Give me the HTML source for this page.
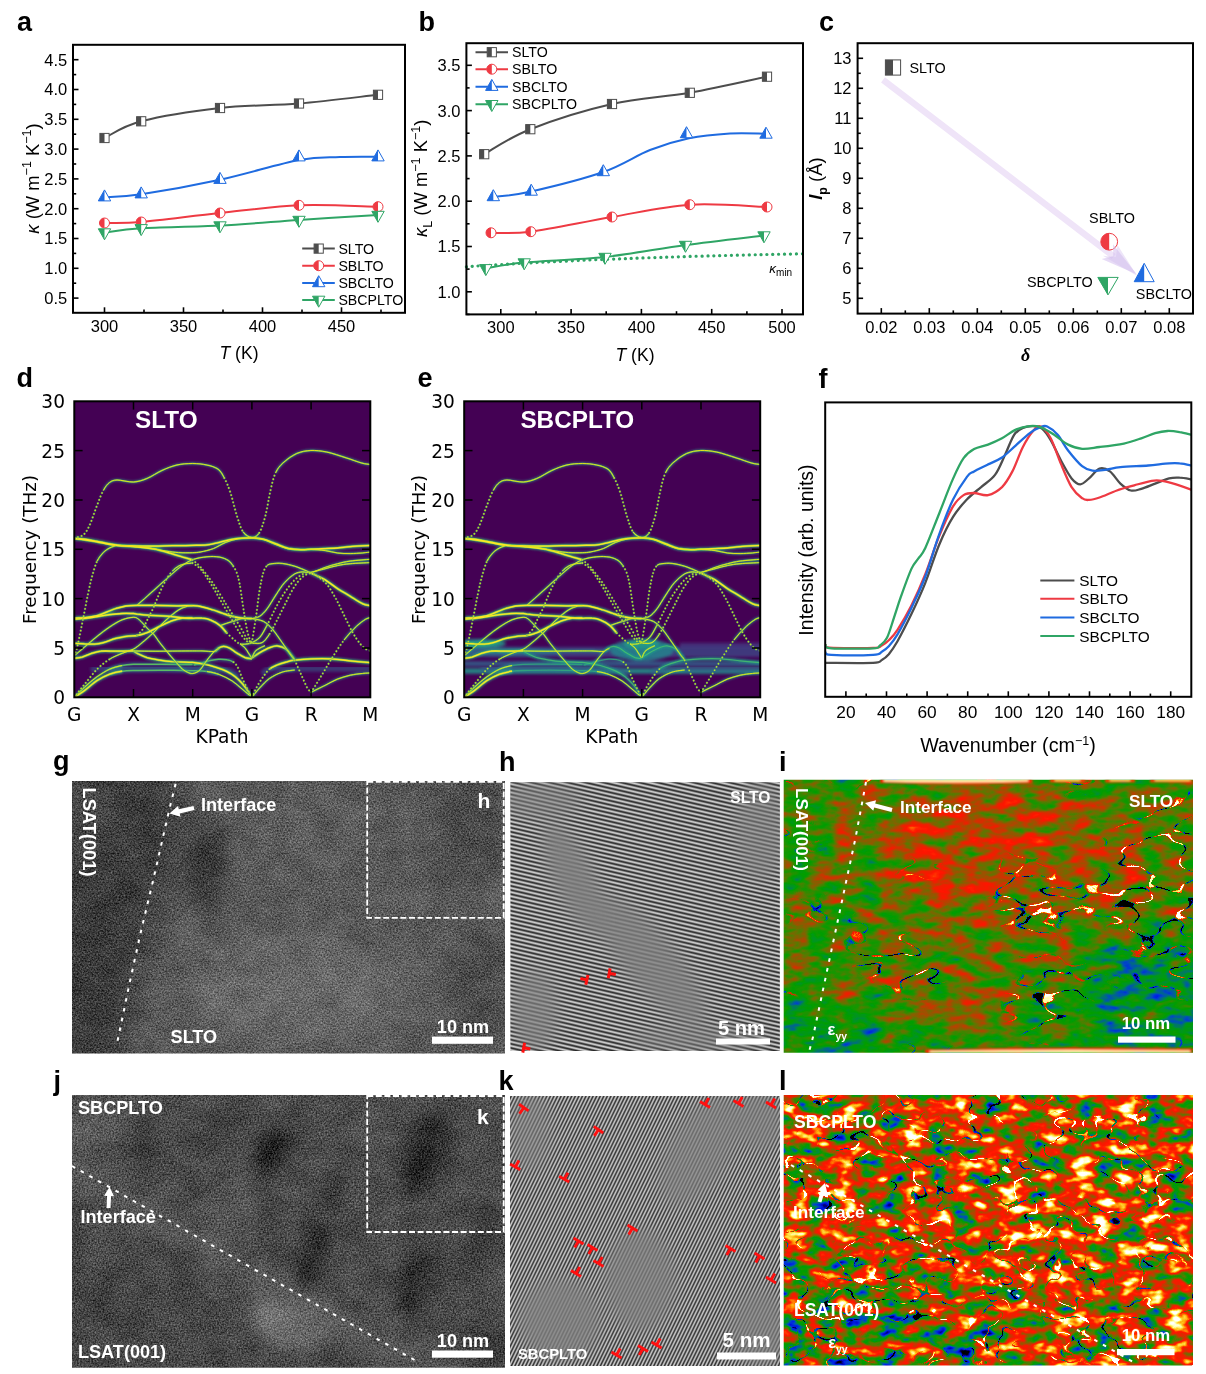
<!DOCTYPE html>
<html><head><meta charset="utf-8"><title>Figure</title>
<style>html,body{margin:0;padding:0;background:#fff}svg{display:block}</style></head>
<body>
<svg width="1206" height="1374" viewBox="0 0 1206 1374">
<g id="panel-a">
<text x="17" y="31.3" font-family='"Liberation Sans", sans-serif' font-size="27" text-anchor="start" font-weight="bold" font-style="normal" fill="#000">a</text>
<line x1="73" y1="298.1" x2="78.5" y2="298.1" stroke="#000" stroke-width="1.6"/><line x1="73" y1="268.3" x2="78.5" y2="268.3" stroke="#000" stroke-width="1.6"/><line x1="73" y1="238.5" x2="78.5" y2="238.5" stroke="#000" stroke-width="1.6"/><line x1="73" y1="208.7" x2="78.5" y2="208.7" stroke="#000" stroke-width="1.6"/><line x1="73" y1="178.9" x2="78.5" y2="178.9" stroke="#000" stroke-width="1.6"/><line x1="73" y1="149.1" x2="78.5" y2="149.1" stroke="#000" stroke-width="1.6"/><line x1="73" y1="119.3" x2="78.5" y2="119.3" stroke="#000" stroke-width="1.6"/><line x1="73" y1="89.5" x2="78.5" y2="89.5" stroke="#000" stroke-width="1.6"/><line x1="73" y1="59.7" x2="78.5" y2="59.7" stroke="#000" stroke-width="1.6"/>
<line x1="73" y1="283.2" x2="76.2" y2="283.2" stroke="#000" stroke-width="1.6"/><line x1="73" y1="253.4" x2="76.2" y2="253.4" stroke="#000" stroke-width="1.6"/><line x1="73" y1="223.6" x2="76.2" y2="223.6" stroke="#000" stroke-width="1.6"/><line x1="73" y1="193.8" x2="76.2" y2="193.8" stroke="#000" stroke-width="1.6"/><line x1="73" y1="164.0" x2="76.2" y2="164.0" stroke="#000" stroke-width="1.6"/><line x1="73" y1="134.2" x2="76.2" y2="134.2" stroke="#000" stroke-width="1.6"/><line x1="73" y1="104.4" x2="76.2" y2="104.4" stroke="#000" stroke-width="1.6"/><line x1="73" y1="74.6" x2="76.2" y2="74.6" stroke="#000" stroke-width="1.6"/>
<line x1="104.5" y1="312.8" x2="104.5" y2="307.3" stroke="#000" stroke-width="1.6"/><line x1="183.5" y1="312.8" x2="183.5" y2="307.3" stroke="#000" stroke-width="1.6"/><line x1="262.5" y1="312.8" x2="262.5" y2="307.3" stroke="#000" stroke-width="1.6"/><line x1="341.5" y1="312.8" x2="341.5" y2="307.3" stroke="#000" stroke-width="1.6"/>
<line x1="144.0" y1="312.8" x2="144.0" y2="309.6" stroke="#000" stroke-width="1.6"/><line x1="223.0" y1="312.8" x2="223.0" y2="309.6" stroke="#000" stroke-width="1.6"/><line x1="302.0" y1="312.8" x2="302.0" y2="309.6" stroke="#000" stroke-width="1.6"/><line x1="381.0" y1="312.8" x2="381.0" y2="309.6" stroke="#000" stroke-width="1.6"/>
<text x="67.3" y="304.0" font-family='"Liberation Sans", sans-serif' font-size="16.5" text-anchor="end" font-weight="normal" font-style="normal" fill="#000">0.5</text>
<text x="67.3" y="274.2" font-family='"Liberation Sans", sans-serif' font-size="16.5" text-anchor="end" font-weight="normal" font-style="normal" fill="#000">1.0</text>
<text x="67.3" y="244.4" font-family='"Liberation Sans", sans-serif' font-size="16.5" text-anchor="end" font-weight="normal" font-style="normal" fill="#000">1.5</text>
<text x="67.3" y="214.6" font-family='"Liberation Sans", sans-serif' font-size="16.5" text-anchor="end" font-weight="normal" font-style="normal" fill="#000">2.0</text>
<text x="67.3" y="184.8" font-family='"Liberation Sans", sans-serif' font-size="16.5" text-anchor="end" font-weight="normal" font-style="normal" fill="#000">2.5</text>
<text x="67.3" y="155.00000000000003" font-family='"Liberation Sans", sans-serif' font-size="16.5" text-anchor="end" font-weight="normal" font-style="normal" fill="#000">3.0</text>
<text x="67.3" y="125.20000000000002" font-family='"Liberation Sans", sans-serif' font-size="16.5" text-anchor="end" font-weight="normal" font-style="normal" fill="#000">3.5</text>
<text x="67.3" y="95.4" font-family='"Liberation Sans", sans-serif' font-size="16.5" text-anchor="end" font-weight="normal" font-style="normal" fill="#000">4.0</text>
<text x="67.3" y="65.60000000000001" font-family='"Liberation Sans", sans-serif' font-size="16.5" text-anchor="end" font-weight="normal" font-style="normal" fill="#000">4.5</text>
<text x="104.5" y="331.9" font-family='"Liberation Sans", sans-serif' font-size="16.5" text-anchor="middle" font-weight="normal" font-style="normal" fill="#000">300</text>
<text x="183.5" y="331.9" font-family='"Liberation Sans", sans-serif' font-size="16.5" text-anchor="middle" font-weight="normal" font-style="normal" fill="#000">350</text>
<text x="262.5" y="331.9" font-family='"Liberation Sans", sans-serif' font-size="16.5" text-anchor="middle" font-weight="normal" font-style="normal" fill="#000">400</text>
<text x="341.5" y="331.9" font-family='"Liberation Sans", sans-serif' font-size="16.5" text-anchor="middle" font-weight="normal" font-style="normal" fill="#000">450</text>
<text x="239" y="359.2" font-family='"Liberation Sans", sans-serif' font-size="17.6" text-anchor="middle" font-weight="normal" font-style="normal" fill="#000"><tspan font-style="italic">T</tspan> (K)</text>
<text x="38.6" y="178.5" font-family='"Liberation Sans", sans-serif' font-size="18.4" text-anchor="middle" transform="rotate(-90 38.6 178.5)"><tspan font-style="italic">κ</tspan> (W m<tspan dy="-7.5" font-size="12.5">−1</tspan><tspan dy="7.5"> K</tspan><tspan dy="-7.5" font-size="12.5">−1</tspan><tspan dy="7.5">)</tspan></text>
<path d="M104.5,138.0C110.6,135.2 121.9,126.3 141.2,121.3C160.4,116.3 193.7,111.0 220.0,108.0C246.3,105.0 272.7,105.7 299.0,103.5C325.3,101.3 364.8,96.2 378.0,94.8" fill="none" stroke="#4d4d4d" stroke-width="2" stroke-linecap="round"/>
<path d="M104.5,197.2C110.6,196.7 121.9,197.1 141.2,194.2C160.4,191.3 193.7,185.4 220.0,179.7C246.3,174.0 279.0,163.8 299.0,160.0C319.0,156.2 326.8,157.6 340.0,157.0C353.2,156.4 371.7,156.8 378.0,156.7" fill="none" stroke="#1f6be0" stroke-width="2" stroke-linecap="round"/>
<path d="M104.5,223.0C110.6,222.8 121.9,223.7 141.2,222.0C160.4,220.3 193.7,215.8 220.0,213.0C246.3,210.2 272.7,206.4 299.0,205.3C325.3,204.2 364.8,206.5 378.0,206.7" fill="none" stroke="#ee3a43" stroke-width="2" stroke-linecap="round"/>
<path d="M104.5,232.5C110.6,231.8 121.9,229.5 141.2,228.3C160.4,227.1 193.7,226.9 220.0,225.5C246.3,224.1 272.7,221.8 299.0,220.0C325.3,218.2 364.8,215.8 378.0,215.0" fill="none" stroke="#2fa565" stroke-width="2" stroke-linecap="round"/>
<rect x="99.9" y="133.4" width="9.2" height="9.2" fill="#fff" stroke="#4d4d4d" stroke-width="1"/><rect x="99.9" y="133.4" width="4.6" height="9.2" fill="#4d4d4d"/>
<rect x="136.6" y="116.7" width="9.2" height="9.2" fill="#fff" stroke="#4d4d4d" stroke-width="1"/><rect x="136.6" y="116.7" width="4.6" height="9.2" fill="#4d4d4d"/>
<rect x="215.4" y="103.4" width="9.2" height="9.2" fill="#fff" stroke="#4d4d4d" stroke-width="1"/><rect x="215.4" y="103.4" width="4.6" height="9.2" fill="#4d4d4d"/>
<rect x="294.4" y="98.9" width="9.2" height="9.2" fill="#fff" stroke="#4d4d4d" stroke-width="1"/><rect x="294.4" y="98.9" width="4.6" height="9.2" fill="#4d4d4d"/>
<rect x="373.4" y="90.2" width="9.2" height="9.2" fill="#fff" stroke="#4d4d4d" stroke-width="1"/><rect x="373.4" y="90.2" width="4.6" height="9.2" fill="#4d4d4d"/>
<path d="M104.5,189.9L110.7,200.9L98.3,200.9Z" fill="#fff" stroke="#1f6be0" stroke-width="1" stroke-linejoin="miter"/><path d="M104.5,189.9L104.5,200.9L98.3,200.9Z" fill="#1f6be0"/>
<path d="M141.2,186.9L147.4,197.9L135.0,197.9Z" fill="#fff" stroke="#1f6be0" stroke-width="1" stroke-linejoin="miter"/><path d="M141.2,186.9L141.2,197.9L135.0,197.9Z" fill="#1f6be0"/>
<path d="M220.0,172.4L226.2,183.4L213.8,183.4Z" fill="#fff" stroke="#1f6be0" stroke-width="1" stroke-linejoin="miter"/><path d="M220.0,172.4L220.0,183.4L213.8,183.4Z" fill="#1f6be0"/>
<path d="M299.0,149.9L305.2,160.9L292.8,160.9Z" fill="#fff" stroke="#1f6be0" stroke-width="1" stroke-linejoin="miter"/><path d="M299.0,149.9L299.0,160.9L292.8,160.9Z" fill="#1f6be0"/>
<path d="M378.0,149.9L384.2,160.9L371.8,160.9Z" fill="#fff" stroke="#1f6be0" stroke-width="1" stroke-linejoin="miter"/><path d="M378.0,149.9L378.0,160.9L371.8,160.9Z" fill="#1f6be0"/>
<circle cx="104.5" cy="223.0" r="5" fill="#fff" stroke="#ee3a43" stroke-width="1"/><path d="M104.5,218.0A5,5 0 0 0 104.5,228.0Z" fill="#ee3a43"/>
<circle cx="141.2" cy="222.0" r="5" fill="#fff" stroke="#ee3a43" stroke-width="1"/><path d="M141.2,217.0A5,5 0 0 0 141.2,227.0Z" fill="#ee3a43"/>
<circle cx="220.0" cy="213.0" r="5" fill="#fff" stroke="#ee3a43" stroke-width="1"/><path d="M220.0,208.0A5,5 0 0 0 220.0,218.0Z" fill="#ee3a43"/>
<circle cx="299.0" cy="205.3" r="5" fill="#fff" stroke="#ee3a43" stroke-width="1"/><path d="M299.0,200.3A5,5 0 0 0 299.0,210.3Z" fill="#ee3a43"/>
<circle cx="378.0" cy="206.7" r="5" fill="#fff" stroke="#ee3a43" stroke-width="1"/><path d="M378.0,201.7A5,5 0 0 0 378.0,211.7Z" fill="#ee3a43"/>
<path d="M98.3,228.8L110.7,228.8L104.5,239.8Z" fill="#fff" stroke="#2fa565" stroke-width="1" stroke-linejoin="miter"/><path d="M98.3,228.8L104.5,228.8L104.5,239.8Z" fill="#2fa565"/>
<path d="M135.0,224.6L147.4,224.6L141.2,235.6Z" fill="#fff" stroke="#2fa565" stroke-width="1" stroke-linejoin="miter"/><path d="M135.0,224.6L141.2,224.6L141.2,235.6Z" fill="#2fa565"/>
<path d="M213.8,221.8L226.2,221.8L220.0,232.8Z" fill="#fff" stroke="#2fa565" stroke-width="1" stroke-linejoin="miter"/><path d="M213.8,221.8L220.0,221.8L220.0,232.8Z" fill="#2fa565"/>
<path d="M292.8,216.3L305.2,216.3L299.0,227.3Z" fill="#fff" stroke="#2fa565" stroke-width="1" stroke-linejoin="miter"/><path d="M292.8,216.3L299.0,216.3L299.0,227.3Z" fill="#2fa565"/>
<path d="M371.8,211.3L384.2,211.3L378.0,222.3Z" fill="#fff" stroke="#2fa565" stroke-width="1" stroke-linejoin="miter"/><path d="M371.8,211.3L378.0,211.3L378.0,222.3Z" fill="#2fa565"/>
<line x1="302.2" y1="248.6" x2="334.8" y2="248.6" stroke="#4d4d4d" stroke-width="2"/><rect x="314.1" y="244.0" width="9.2" height="9.2" fill="#fff" stroke="#4d4d4d" stroke-width="1"/><rect x="314.1" y="244.0" width="4.6" height="9.2" fill="#4d4d4d"/><text x="338.4" y="253.5" font-family='"Liberation Sans", sans-serif' font-size="14.2" text-anchor="start" font-weight="normal" font-style="normal" fill="#000">SLTO</text><line x1="302.2" y1="265.7" x2="334.8" y2="265.7" stroke="#ee3a43" stroke-width="2"/><circle cx="318.7" cy="265.7" r="5" fill="#fff" stroke="#ee3a43" stroke-width="1"/><path d="M318.7,260.7A5,5 0 0 0 318.7,270.7Z" fill="#ee3a43"/><text x="338.4" y="270.59999999999997" font-family='"Liberation Sans", sans-serif' font-size="14.2" text-anchor="start" font-weight="normal" font-style="normal" fill="#000">SBLTO</text><line x1="302.2" y1="283" x2="334.8" y2="283" stroke="#1f6be0" stroke-width="2"/><path d="M318.7,275.7L324.9,286.7L312.5,286.7Z" fill="#fff" stroke="#1f6be0" stroke-width="1" stroke-linejoin="miter"/><path d="M318.7,275.7L318.7,286.7L312.5,286.7Z" fill="#1f6be0"/><text x="338.4" y="287.9" font-family='"Liberation Sans", sans-serif' font-size="14.2" text-anchor="start" font-weight="normal" font-style="normal" fill="#000">SBCLTO</text><line x1="302.2" y1="299.9" x2="334.8" y2="299.9" stroke="#2fa565" stroke-width="2"/><path d="M312.5,296.2L324.9,296.2L318.7,307.2Z" fill="#fff" stroke="#2fa565" stroke-width="1" stroke-linejoin="miter"/><path d="M312.5,296.2L318.7,296.2L318.7,307.2Z" fill="#2fa565"/><text x="338.4" y="304.79999999999995" font-family='"Liberation Sans", sans-serif' font-size="14.2" text-anchor="start" font-weight="normal" font-style="normal" fill="#000">SBCPLTO</text>
<rect x="73" y="44.8" width="332.0" height="268.0" fill="none" stroke="#000" stroke-width="2"/>
</g>
<g id="panel-b">
<text x="418.5" y="31.3" font-family='"Liberation Sans", sans-serif' font-size="27" text-anchor="start" font-weight="bold" font-style="normal" fill="#000">b</text>
<line x1="466.4" y1="291.8" x2="471.9" y2="291.8" stroke="#000" stroke-width="1.6"/><line x1="466.4" y1="246.5" x2="471.9" y2="246.5" stroke="#000" stroke-width="1.6"/><line x1="466.4" y1="201.2" x2="471.9" y2="201.2" stroke="#000" stroke-width="1.6"/><line x1="466.4" y1="155.9" x2="471.9" y2="155.9" stroke="#000" stroke-width="1.6"/><line x1="466.4" y1="110.6" x2="471.9" y2="110.6" stroke="#000" stroke-width="1.6"/><line x1="466.4" y1="65.3" x2="471.9" y2="65.3" stroke="#000" stroke-width="1.6"/>
<line x1="466.4" y1="314.4" x2="469.59999999999997" y2="314.4" stroke="#000" stroke-width="1.6"/><line x1="466.4" y1="269.1" x2="469.59999999999997" y2="269.1" stroke="#000" stroke-width="1.6"/><line x1="466.4" y1="223.8" x2="469.59999999999997" y2="223.8" stroke="#000" stroke-width="1.6"/><line x1="466.4" y1="178.6" x2="469.59999999999997" y2="178.6" stroke="#000" stroke-width="1.6"/><line x1="466.4" y1="133.2" x2="469.59999999999997" y2="133.2" stroke="#000" stroke-width="1.6"/><line x1="466.4" y1="87.9" x2="469.59999999999997" y2="87.9" stroke="#000" stroke-width="1.6"/>
<line x1="500.8" y1="314.4" x2="500.8" y2="308.9" stroke="#000" stroke-width="1.6"/><line x1="571.1" y1="314.4" x2="571.1" y2="308.9" stroke="#000" stroke-width="1.6"/><line x1="641.4" y1="314.4" x2="641.4" y2="308.9" stroke="#000" stroke-width="1.6"/><line x1="711.7" y1="314.4" x2="711.7" y2="308.9" stroke="#000" stroke-width="1.6"/><line x1="782.0" y1="314.4" x2="782.0" y2="308.9" stroke="#000" stroke-width="1.6"/>
<line x1="536.0" y1="314.4" x2="536.0" y2="311.2" stroke="#000" stroke-width="1.6"/><line x1="606.2" y1="314.4" x2="606.2" y2="311.2" stroke="#000" stroke-width="1.6"/><line x1="676.5" y1="314.4" x2="676.5" y2="311.2" stroke="#000" stroke-width="1.6"/><line x1="746.9" y1="314.4" x2="746.9" y2="311.2" stroke="#000" stroke-width="1.6"/>
<text x="460.5" y="297.7" font-family='"Liberation Sans", sans-serif' font-size="16.5" text-anchor="end" font-weight="normal" font-style="normal" fill="#000">1.0</text>
<text x="460.5" y="252.4" font-family='"Liberation Sans", sans-serif' font-size="16.5" text-anchor="end" font-weight="normal" font-style="normal" fill="#000">1.5</text>
<text x="460.5" y="207.1" font-family='"Liberation Sans", sans-serif' font-size="16.5" text-anchor="end" font-weight="normal" font-style="normal" fill="#000">2.0</text>
<text x="460.5" y="161.79999999999998" font-family='"Liberation Sans", sans-serif' font-size="16.5" text-anchor="end" font-weight="normal" font-style="normal" fill="#000">2.5</text>
<text x="460.5" y="116.5" font-family='"Liberation Sans", sans-serif' font-size="16.5" text-anchor="end" font-weight="normal" font-style="normal" fill="#000">3.0</text>
<text x="460.5" y="71.2" font-family='"Liberation Sans", sans-serif' font-size="16.5" text-anchor="end" font-weight="normal" font-style="normal" fill="#000">3.5</text>
<text x="500.8" y="332.8" font-family='"Liberation Sans", sans-serif' font-size="16.5" text-anchor="middle" font-weight="normal" font-style="normal" fill="#000">300</text>
<text x="571.1" y="332.8" font-family='"Liberation Sans", sans-serif' font-size="16.5" text-anchor="middle" font-weight="normal" font-style="normal" fill="#000">350</text>
<text x="641.4" y="332.8" font-family='"Liberation Sans", sans-serif' font-size="16.5" text-anchor="middle" font-weight="normal" font-style="normal" fill="#000">400</text>
<text x="711.7" y="332.8" font-family='"Liberation Sans", sans-serif' font-size="16.5" text-anchor="middle" font-weight="normal" font-style="normal" fill="#000">450</text>
<text x="782.0" y="332.8" font-family='"Liberation Sans", sans-serif' font-size="16.5" text-anchor="middle" font-weight="normal" font-style="normal" fill="#000">500</text>
<text x="635" y="361.2" font-family='"Liberation Sans", sans-serif' font-size="17.6" text-anchor="middle" font-weight="normal" font-style="normal" fill="#000"><tspan font-style="italic">T</tspan> (K)</text>
<text x="427.4" y="178.3" font-family='"Liberation Sans", sans-serif' font-size="18.4" text-anchor="middle" transform="rotate(-90 427.4 178.3)"><tspan font-style="italic">κ</tspan><tspan dy="4.5" font-size="12.5">L</tspan><tspan dy="-4.5"> (W m</tspan><tspan dy="-7.5" font-size="12.5">−1</tspan><tspan dy="7.5"> K</tspan><tspan dy="-7.5" font-size="12.5">−1</tspan><tspan dy="7.5">)</tspan></text>
<path d="M466.4,266.8Q600,257.5 803,253.8" fill="none" stroke="#2fa565" stroke-width="3.2" stroke-dasharray="0.1 5.8" stroke-linecap="round"/>
<text x="769.3" y="272.8" font-family='"Liberation Sans", sans-serif' font-size="13.5"><tspan font-style="italic">κ</tspan><tspan dy="3" font-size="10">min</tspan></text>
<path d="M484.2,154.2C491.9,150.0 509.0,137.6 530.3,129.2C551.6,120.8 585.4,110.1 612.0,104.0C638.6,97.9 664.0,97.3 689.8,92.8C715.6,88.2 754.1,79.4 767.0,76.7" fill="none" stroke="#4d4d4d" stroke-width="2" stroke-linecap="round"/>
<path d="M493.3,197.0C499.6,196.1 512.9,195.7 531.2,191.5C549.5,187.3 583.5,178.9 603.3,172.0C623.1,165.1 635.7,155.6 650.0,150.0C664.3,144.4 675.7,141.1 689.0,138.3C702.3,135.6 717.2,134.3 730.0,133.5C742.8,132.7 760.0,133.7 766.0,133.7" fill="none" stroke="#1f6be0" stroke-width="2" stroke-linecap="round"/>
<path d="M491.0,232.8C497.6,232.6 510.6,234.3 530.8,231.7C551.0,229.1 585.5,221.5 612.0,217.0C638.5,212.5 664.0,206.4 689.8,204.7C715.6,203.0 754.1,206.6 767.0,207.0" fill="none" stroke="#ee3a43" stroke-width="2" stroke-linecap="round"/>
<path d="M485.8,268.3C492.2,267.3 504.3,264.4 524.2,262.5C544.1,260.6 578.1,259.9 605.0,257.0C631.9,254.1 659.0,248.6 685.5,245.0C712.0,241.4 750.9,237.1 764.0,235.5" fill="none" stroke="#2fa565" stroke-width="2" stroke-linecap="round"/>
<rect x="479.6" y="149.6" width="9.2" height="9.2" fill="#fff" stroke="#4d4d4d" stroke-width="1"/><rect x="479.6" y="149.6" width="4.6" height="9.2" fill="#4d4d4d"/>
<rect x="525.7" y="124.6" width="9.2" height="9.2" fill="#fff" stroke="#4d4d4d" stroke-width="1"/><rect x="525.7" y="124.6" width="4.6" height="9.2" fill="#4d4d4d"/>
<rect x="607.4" y="99.4" width="9.2" height="9.2" fill="#fff" stroke="#4d4d4d" stroke-width="1"/><rect x="607.4" y="99.4" width="4.6" height="9.2" fill="#4d4d4d"/>
<rect x="685.2" y="88.2" width="9.2" height="9.2" fill="#fff" stroke="#4d4d4d" stroke-width="1"/><rect x="685.2" y="88.2" width="4.6" height="9.2" fill="#4d4d4d"/>
<rect x="762.4" y="72.1" width="9.2" height="9.2" fill="#fff" stroke="#4d4d4d" stroke-width="1"/><rect x="762.4" y="72.1" width="4.6" height="9.2" fill="#4d4d4d"/>
<path d="M493.3,189.7L499.5,200.7L487.1,200.7Z" fill="#fff" stroke="#1f6be0" stroke-width="1" stroke-linejoin="miter"/><path d="M493.3,189.7L493.3,200.7L487.1,200.7Z" fill="#1f6be0"/>
<path d="M531.2,184.2L537.4,195.2L525.0,195.2Z" fill="#fff" stroke="#1f6be0" stroke-width="1" stroke-linejoin="miter"/><path d="M531.2,184.2L531.2,195.2L525.0,195.2Z" fill="#1f6be0"/>
<path d="M603.3,164.7L609.5,175.7L597.1,175.7Z" fill="#fff" stroke="#1f6be0" stroke-width="1" stroke-linejoin="miter"/><path d="M603.3,164.7L603.3,175.7L597.1,175.7Z" fill="#1f6be0"/>
<path d="M686.5,126.7L692.7,137.7L680.3,137.7Z" fill="#fff" stroke="#1f6be0" stroke-width="1" stroke-linejoin="miter"/><path d="M686.5,126.7L686.5,137.7L680.3,137.7Z" fill="#1f6be0"/>
<path d="M766.0,127.2L772.2,138.2L759.8,138.2Z" fill="#fff" stroke="#1f6be0" stroke-width="1" stroke-linejoin="miter"/><path d="M766.0,127.2L766.0,138.2L759.8,138.2Z" fill="#1f6be0"/>
<circle cx="491.0" cy="232.8" r="5" fill="#fff" stroke="#ee3a43" stroke-width="1"/><path d="M491.0,227.8A5,5 0 0 0 491.0,237.8Z" fill="#ee3a43"/>
<circle cx="530.8" cy="231.7" r="5" fill="#fff" stroke="#ee3a43" stroke-width="1"/><path d="M530.8,226.7A5,5 0 0 0 530.8,236.7Z" fill="#ee3a43"/>
<circle cx="612.0" cy="217.0" r="5" fill="#fff" stroke="#ee3a43" stroke-width="1"/><path d="M612.0,212.0A5,5 0 0 0 612.0,222.0Z" fill="#ee3a43"/>
<circle cx="689.8" cy="204.7" r="5" fill="#fff" stroke="#ee3a43" stroke-width="1"/><path d="M689.8,199.7A5,5 0 0 0 689.8,209.7Z" fill="#ee3a43"/>
<circle cx="767.0" cy="207.0" r="5" fill="#fff" stroke="#ee3a43" stroke-width="1"/><path d="M767.0,202.0A5,5 0 0 0 767.0,212.0Z" fill="#ee3a43"/>
<path d="M479.6,264.6L492.0,264.6L485.8,275.6Z" fill="#fff" stroke="#2fa565" stroke-width="1" stroke-linejoin="miter"/><path d="M479.6,264.6L485.8,264.6L485.8,275.6Z" fill="#2fa565"/>
<path d="M518.0,258.8L530.4,258.8L524.2,269.8Z" fill="#fff" stroke="#2fa565" stroke-width="1" stroke-linejoin="miter"/><path d="M518.0,258.8L524.2,258.8L524.2,269.8Z" fill="#2fa565"/>
<path d="M598.8,253.3L611.2,253.3L605.0,264.3Z" fill="#fff" stroke="#2fa565" stroke-width="1" stroke-linejoin="miter"/><path d="M598.8,253.3L605.0,253.3L605.0,264.3Z" fill="#2fa565"/>
<path d="M679.3,241.3L691.7,241.3L685.5,252.3Z" fill="#fff" stroke="#2fa565" stroke-width="1" stroke-linejoin="miter"/><path d="M679.3,241.3L685.5,241.3L685.5,252.3Z" fill="#2fa565"/>
<path d="M757.8,231.8L770.2,231.8L764.0,242.8Z" fill="#fff" stroke="#2fa565" stroke-width="1" stroke-linejoin="miter"/><path d="M757.8,231.8L764.0,231.8L764.0,242.8Z" fill="#2fa565"/>
<line x1="475.5" y1="52.2" x2="508" y2="52.2" stroke="#4d4d4d" stroke-width="2"/><rect x="487.2" y="47.6" width="9.2" height="9.2" fill="#fff" stroke="#4d4d4d" stroke-width="1"/><rect x="487.2" y="47.6" width="4.6" height="9.2" fill="#4d4d4d"/><text x="512" y="57.1" font-family='"Liberation Sans", sans-serif' font-size="14.2" text-anchor="start" font-weight="normal" font-style="normal" fill="#000">SLTO</text><line x1="475.5" y1="69.2" x2="508" y2="69.2" stroke="#ee3a43" stroke-width="2"/><circle cx="491.8" cy="69.2" r="5" fill="#fff" stroke="#ee3a43" stroke-width="1"/><path d="M491.8,64.2A5,5 0 0 0 491.8,74.2Z" fill="#ee3a43"/><text x="512" y="74.10000000000001" font-family='"Liberation Sans", sans-serif' font-size="14.2" text-anchor="start" font-weight="normal" font-style="normal" fill="#000">SBLTO</text><line x1="475.5" y1="86.7" x2="508" y2="86.7" stroke="#1f6be0" stroke-width="2"/><path d="M491.8,79.4L498.0,90.4L485.6,90.4Z" fill="#fff" stroke="#1f6be0" stroke-width="1" stroke-linejoin="miter"/><path d="M491.8,79.4L491.8,90.4L485.6,90.4Z" fill="#1f6be0"/><text x="512" y="91.60000000000001" font-family='"Liberation Sans", sans-serif' font-size="14.2" text-anchor="start" font-weight="normal" font-style="normal" fill="#000">SBCLTO</text><line x1="475.5" y1="104.2" x2="508" y2="104.2" stroke="#2fa565" stroke-width="2"/><path d="M485.6,100.5L498.0,100.5L491.8,111.5Z" fill="#fff" stroke="#2fa565" stroke-width="1" stroke-linejoin="miter"/><path d="M485.6,100.5L491.8,100.5L491.8,111.5Z" fill="#2fa565"/><text x="512" y="109.10000000000001" font-family='"Liberation Sans", sans-serif' font-size="14.2" text-anchor="start" font-weight="normal" font-style="normal" fill="#000">SBCPLTO</text>
<rect x="466.4" y="43.2" width="336.6" height="271.2" fill="none" stroke="#000" stroke-width="2"/>
</g>
<g id="panel-c">
<text x="819" y="31.3" font-family='"Liberation Sans", sans-serif' font-size="27" text-anchor="start" font-weight="bold" font-style="normal" fill="#000">c</text>
<line x1="857.6" y1="298.3" x2="863.1" y2="298.3" stroke="#000" stroke-width="1.6"/><line x1="857.6" y1="268.3" x2="863.1" y2="268.3" stroke="#000" stroke-width="1.6"/><line x1="857.6" y1="238.3" x2="863.1" y2="238.3" stroke="#000" stroke-width="1.6"/><line x1="857.6" y1="208.3" x2="863.1" y2="208.3" stroke="#000" stroke-width="1.6"/><line x1="857.6" y1="178.3" x2="863.1" y2="178.3" stroke="#000" stroke-width="1.6"/><line x1="857.6" y1="148.3" x2="863.1" y2="148.3" stroke="#000" stroke-width="1.6"/><line x1="857.6" y1="118.3" x2="863.1" y2="118.3" stroke="#000" stroke-width="1.6"/><line x1="857.6" y1="88.3" x2="863.1" y2="88.3" stroke="#000" stroke-width="1.6"/><line x1="857.6" y1="58.3" x2="863.1" y2="58.3" stroke="#000" stroke-width="1.6"/>
<line x1="857.6" y1="283.3" x2="860.8000000000001" y2="283.3" stroke="#000" stroke-width="1.6"/><line x1="857.6" y1="253.3" x2="860.8000000000001" y2="253.3" stroke="#000" stroke-width="1.6"/><line x1="857.6" y1="223.3" x2="860.8000000000001" y2="223.3" stroke="#000" stroke-width="1.6"/><line x1="857.6" y1="193.3" x2="860.8000000000001" y2="193.3" stroke="#000" stroke-width="1.6"/><line x1="857.6" y1="163.3" x2="860.8000000000001" y2="163.3" stroke="#000" stroke-width="1.6"/><line x1="857.6" y1="133.3" x2="860.8000000000001" y2="133.3" stroke="#000" stroke-width="1.6"/><line x1="857.6" y1="103.3" x2="860.8000000000001" y2="103.3" stroke="#000" stroke-width="1.6"/><line x1="857.6" y1="73.3" x2="860.8000000000001" y2="73.3" stroke="#000" stroke-width="1.6"/>
<line x1="881.3" y1="313.6" x2="881.3" y2="308.1" stroke="#000" stroke-width="1.6"/><line x1="929.3" y1="313.6" x2="929.3" y2="308.1" stroke="#000" stroke-width="1.6"/><line x1="977.3" y1="313.6" x2="977.3" y2="308.1" stroke="#000" stroke-width="1.6"/><line x1="1025.3" y1="313.6" x2="1025.3" y2="308.1" stroke="#000" stroke-width="1.6"/><line x1="1073.3" y1="313.6" x2="1073.3" y2="308.1" stroke="#000" stroke-width="1.6"/><line x1="1121.3" y1="313.6" x2="1121.3" y2="308.1" stroke="#000" stroke-width="1.6"/><line x1="1169.3" y1="313.6" x2="1169.3" y2="308.1" stroke="#000" stroke-width="1.6"/>
<line x1="905.3" y1="313.6" x2="905.3" y2="310.40000000000003" stroke="#000" stroke-width="1.6"/><line x1="953.3" y1="313.6" x2="953.3" y2="310.40000000000003" stroke="#000" stroke-width="1.6"/><line x1="1001.3" y1="313.6" x2="1001.3" y2="310.40000000000003" stroke="#000" stroke-width="1.6"/><line x1="1049.3" y1="313.6" x2="1049.3" y2="310.40000000000003" stroke="#000" stroke-width="1.6"/><line x1="1097.3" y1="313.6" x2="1097.3" y2="310.40000000000003" stroke="#000" stroke-width="1.6"/><line x1="1145.3" y1="313.6" x2="1145.3" y2="310.40000000000003" stroke="#000" stroke-width="1.6"/>
<text x="851.5" y="304.2" font-family='"Liberation Sans", sans-serif' font-size="16.5" text-anchor="end" font-weight="normal" font-style="normal" fill="#000">5</text>
<text x="851.5" y="274.2" font-family='"Liberation Sans", sans-serif' font-size="16.5" text-anchor="end" font-weight="normal" font-style="normal" fill="#000">6</text>
<text x="851.5" y="244.20000000000002" font-family='"Liberation Sans", sans-serif' font-size="16.5" text-anchor="end" font-weight="normal" font-style="normal" fill="#000">7</text>
<text x="851.5" y="214.20000000000002" font-family='"Liberation Sans", sans-serif' font-size="16.5" text-anchor="end" font-weight="normal" font-style="normal" fill="#000">8</text>
<text x="851.5" y="184.20000000000002" font-family='"Liberation Sans", sans-serif' font-size="16.5" text-anchor="end" font-weight="normal" font-style="normal" fill="#000">9</text>
<text x="851.5" y="154.20000000000002" font-family='"Liberation Sans", sans-serif' font-size="16.5" text-anchor="end" font-weight="normal" font-style="normal" fill="#000">10</text>
<text x="851.5" y="124.2" font-family='"Liberation Sans", sans-serif' font-size="16.5" text-anchor="end" font-weight="normal" font-style="normal" fill="#000">11</text>
<text x="851.5" y="94.2" font-family='"Liberation Sans", sans-serif' font-size="16.5" text-anchor="end" font-weight="normal" font-style="normal" fill="#000">12</text>
<text x="851.5" y="64.2" font-family='"Liberation Sans", sans-serif' font-size="16.5" text-anchor="end" font-weight="normal" font-style="normal" fill="#000">13</text>
<text x="881.3" y="332.6" font-family='"Liberation Sans", sans-serif' font-size="16.5" text-anchor="middle" font-weight="normal" font-style="normal" fill="#000">0.02</text>
<text x="929.3" y="332.6" font-family='"Liberation Sans", sans-serif' font-size="16.5" text-anchor="middle" font-weight="normal" font-style="normal" fill="#000">0.03</text>
<text x="977.3" y="332.6" font-family='"Liberation Sans", sans-serif' font-size="16.5" text-anchor="middle" font-weight="normal" font-style="normal" fill="#000">0.04</text>
<text x="1025.3" y="332.6" font-family='"Liberation Sans", sans-serif' font-size="16.5" text-anchor="middle" font-weight="normal" font-style="normal" fill="#000">0.05</text>
<text x="1073.3" y="332.6" font-family='"Liberation Sans", sans-serif' font-size="16.5" text-anchor="middle" font-weight="normal" font-style="normal" fill="#000">0.06</text>
<text x="1121.3" y="332.6" font-family='"Liberation Sans", sans-serif' font-size="16.5" text-anchor="middle" font-weight="normal" font-style="normal" fill="#000">0.07</text>
<text x="1169.3" y="332.6" font-family='"Liberation Sans", sans-serif' font-size="16.5" text-anchor="middle" font-weight="normal" font-style="normal" fill="#000">0.08</text>
<text x="1025.5" y="360.5" font-family='"Liberation Serif", serif' font-size="18" text-anchor="middle" font-weight="bold" font-style="italic" fill="#000">δ</text>
<text x="822.1" y="178.6" font-family='"Liberation Sans", sans-serif' font-size="18.4" text-anchor="middle" transform="rotate(-90 822.1 178.6)"><tspan font-style="italic" font-weight="bold">l</tspan><tspan dy="4.5" font-size="12.5" font-weight="bold">p</tspan><tspan dy="-4.5"> (Å)</tspan></text>
<path d="M881.1,82.4L884.9,77.3L1115.7,254.0L1111.8,259.1Z" fill="#efe4f8"/>
<rect x="885.4" y="59.9" width="15.2" height="15.2" fill="#fff" stroke="#4d4d4d" stroke-width="1"/><rect x="885.4" y="59.9" width="7.6" height="15.2" fill="#4d4d4d"/>
<text x="909.5" y="72.8" font-family='"Liberation Sans", sans-serif' font-size="14.4" text-anchor="start" font-weight="normal" font-style="normal" fill="#000">SLTO</text>
<circle cx="1109.2" cy="241.7" r="8.4" fill="#fff" stroke="#ee3a43" stroke-width="1"/><path d="M1109.2,233.3A8.4,8.4 0 0 0 1109.2,250.1Z" fill="#ee3a43"/>
<text x="1112" y="222.8" font-family='"Liberation Sans", sans-serif' font-size="14.4" text-anchor="middle" font-weight="normal" font-style="normal" fill="#000">SBLTO</text>
<path d="M1144.2,263.3L1154.2,281.7L1134.2,281.7Z" fill="#fff" stroke="#1f6be0" stroke-width="1" stroke-linejoin="miter"/><path d="M1144.2,263.3L1144.2,281.7L1134.2,281.7Z" fill="#1f6be0"/>
<text x="1135.8" y="298.7" font-family='"Liberation Sans", sans-serif' font-size="14.4" text-anchor="start" font-weight="normal" font-style="normal" fill="#000">SBCLTO</text>
<path d="M1097.8,277.4L1118.2,277.4L1108.0,294.9Z" fill="#fff" stroke="#2fa565" stroke-width="1" stroke-linejoin="miter"/><path d="M1097.8,277.4L1108.0,277.4L1108.0,294.9Z" fill="#2fa565"/>
<text x="1092.8" y="286.7" font-family='"Liberation Sans", sans-serif' font-size="14.4" text-anchor="end" font-weight="normal" font-style="normal" fill="#000">SBCPLTO</text>
<g fill="#d3bdee"><path d="M1136.7,274.2L1113.0,244.3L1113.3,256.2L1101.7,259.0Z" opacity="0.55"/><path d="M1137.2,276.1L1117.5,245.0L1115.9,257.0L1102.9,255.8Z" opacity="0.4"/></g>
<rect x="857.6" y="43.2" width="335.4" height="270.4" fill="none" stroke="#000" stroke-width="2"/>
</g>
<defs>
<g id="bthick" fill="none"><path d="M74.3,538.3C76.0,538.5 80.8,538.7 84.6,539.2C88.4,539.7 92.9,540.6 97.1,541.3C101.3,542.1 105.9,543.2 109.6,543.8C113.4,544.5 115.7,545.0 119.7,545.3C123.6,545.7 127.8,545.7 133.4,545.8C139.1,546.0 147.0,546.1 153.5,546.1C160.0,546.1 165.8,545.8 172.3,545.7C178.8,545.6 186.8,545.5 192.6,545.3C198.4,545.2 202.5,545.3 207.0,544.8C211.5,544.3 215.4,543.3 219.5,542.3C223.7,541.4 228.3,540.0 232.1,539.3C235.8,538.6 238.8,538.4 242.1,538.2C245.4,538.0 248.3,537.8 251.9,537.9C255.4,538.1 259.4,538.2 263.4,539.2C267.4,540.2 271.7,542.3 275.9,543.8C280.1,545.4 284.2,547.4 288.4,548.4C292.6,549.3 297.2,549.5 300.9,549.6C304.7,549.8 307.0,549.4 311.1,549.2C315.1,549.1 320.8,548.8 325.2,548.6C329.6,548.4 333.5,548.3 337.7,548.0C341.9,547.7 344.8,547.1 350.2,546.7C355.7,546.3 366.9,545.7 370.3,545.5"/><path d="M74.3,538.6C76.0,538.8 80.8,539.3 84.6,539.8C88.4,540.4 91.9,540.9 97.1,541.8C102.3,542.8 109.8,544.6 115.9,545.3C122.0,546.1 127.2,546.0 133.4,546.6C139.7,547.2 147.0,547.6 153.5,548.9C160.0,550.1 167.1,552.4 172.3,553.9C177.5,555.3 181.4,556.6 184.8,557.6C188.2,558.6 191.3,559.5 192.6,559.9"/><path d="M74.3,618.2C76.4,618.0 83.3,617.7 87.1,617.3C90.9,616.9 93.8,616.6 97.1,615.7C100.4,614.8 104.0,613.1 107.1,611.9C110.3,610.7 112.8,609.5 115.9,608.5C119.0,607.6 122.4,606.6 125.9,606.0C129.5,605.5 131.6,605.4 137.2,605.3C142.8,605.2 152.9,605.4 159.7,605.5C166.6,605.6 173.1,605.8 178.5,605.8C184.0,605.8 188.9,605.5 192.6,605.7C196.3,605.8 197.3,605.8 200.8,606.5C204.2,607.3 209.5,608.9 213.3,610.0C217.0,611.2 220.2,612.5 223.3,613.5C226.4,614.6 228.9,615.5 232.1,616.3C235.2,617.1 238.8,617.8 242.1,618.2C245.4,618.6 250.2,618.5 251.9,618.6"/><path d="M74.3,619.1C76.4,618.9 83.3,618.6 87.1,618.2C90.9,617.8 93.3,617.2 97.1,616.6C100.9,616.0 105.5,615.1 109.6,614.6C113.8,614.1 118.2,613.7 122.2,613.5C126.1,613.4 130.9,613.5 133.4,613.5C135.9,613.6 134.9,613.8 137.2,614.1C139.5,614.3 141.4,614.6 147.2,615.1C153.1,615.5 166.0,616.0 172.3,616.6C178.5,617.1 181.4,617.9 184.8,618.2C188.2,618.5 189.7,618.3 192.6,618.3C195.4,618.3 199.0,617.9 202.0,618.2C205.0,618.4 207.3,618.6 210.3,619.9C213.3,621.1 217.5,623.4 220.2,625.7C223.0,627.9 224.4,630.6 226.9,633.1"/><path d="M74.3,643.3C76.0,643.4 81.2,643.7 84.6,643.9C88.0,644.0 91.5,644.4 94.6,644.1C97.7,643.9 99.8,643.6 103.4,642.6C106.9,641.7 111.7,639.5 115.9,638.4C120.1,637.3 124.9,636.6 128.4,636.1C132.0,635.6 134.1,636.1 137.2,635.5C140.3,634.9 143.5,634.1 147.2,632.6C151.0,631.1 155.6,628.3 159.7,626.3C163.9,624.4 168.5,622.1 172.3,620.7C176.0,619.3 178.9,618.6 182.3,618.2C185.7,617.7 190.9,618.0 192.6,617.9"/><path d="M74.3,658.3C75.6,658.1 79.3,657.8 82.1,657.1C84.8,656.3 87.7,654.7 90.8,653.7C94.0,652.7 96.7,651.6 100.9,651.2C105.0,650.7 110.5,651.2 115.9,651.2C121.3,651.1 130.5,651.0 133.4,650.9"/><path d="M74.3,697.3C76.0,696.2 80.8,693.3 84.6,690.5C88.4,687.7 92.9,683.2 97.1,680.5C101.3,677.8 105.5,675.8 109.6,674.2C113.8,672.7 118.2,671.8 122.2,671.2"/><path d="M311.1,573.1C314.1,574.5 320.8,577.3 325.2,579.9C329.6,582.6 333.5,586.0 337.7,588.7C341.9,591.4 346.1,593.7 350.2,596.2C354.4,598.8 359.4,602.2 362.8,603.8C366.1,605.3 369.0,605.3 370.3,605.7"/></g>
<g id="blow" fill="none"><path d="M214.4,651.4C217.2,650.9 217.1,648.9 218.6,648.0C220.1,647.2 221.8,646.4 223.6,646.4C225.4,646.4 227.2,646.9 229.4,648.0C231.6,649.1 234.2,651.4 236.8,653.0C239.5,654.6 242.6,656.6 245.1,657.6C247.6,658.5 250.6,658.6 251.8,658.8"/><path d="M133.4,650.9C134.1,651.3 134.9,652.2 137.2,653.3C139.5,654.4 143.5,656.5 147.2,657.7C151.0,658.8 155.6,659.5 159.7,660.2C163.9,660.9 166.8,661.3 172.3,661.7C177.7,662.1 187.6,662.1 192.6,662.4C197.5,662.8 199.0,663.3 202.0,663.8C205.0,664.3 206.8,664.5 210.3,665.5C213.7,666.4 219.3,668.2 222.7,669.6C226.2,671.0 228.4,672.1 231.0,673.7C233.6,675.4 236.1,677.3 238.5,679.6C240.8,681.8 242.9,684.1 245.1,687.0C247.3,690.0 250.6,695.6 251.8,697.3"/><path d="M251.9,657.9C253.1,657.1 256.7,654.4 259.6,652.7C262.6,651.0 266.7,648.8 269.6,647.7C272.6,646.5 274.4,645.6 277.1,645.8C279.9,646.0 283.4,647.1 285.9,648.9C288.4,650.7 290.7,654.5 292.2,656.4C293.6,658.3 294.3,659.6 294.7,660.2"/><path d="M269.6,669.0C271.9,667.0 274.4,666.1 277.1,665.0C279.9,663.8 283.0,662.9 285.9,662.1C288.8,661.3 290.5,660.7 294.7,660.2C298.9,659.7 304.9,659.1 311.1,658.9C317.2,658.7 324.9,658.6 331.5,658.9C338.0,659.2 343.8,660.2 350.2,660.8C356.7,661.4 366.9,662.4 370.3,662.7"/></g>
<g id="bthin" fill="none"><path d="M103.3,490.5C105.3,486.6 107.2,484.2 109.5,482.5C111.8,480.7 113.0,480.1 117.0,480.0C121.0,479.9 128.5,482.2 133.5,482.0C138.4,481.7 142.2,480.4 146.9,478.5C151.7,476.6 156.9,472.7 161.9,470.5C166.9,468.2 171.8,466.2 176.9,465.0C182.0,463.8 187.6,463.5 192.6,463.5C197.6,463.5 202.6,464.0 206.8,465.0C211.1,465.9 215.1,467.1 218.1,469.2C221.0,471.4 222.2,474.0 224.3,478.0"/><path d="M243.0,531.7C245.5,535.3 249.0,537.2 251.8,537.4C254.5,537.6 256.9,536.6 259.2,532.9"/><path d="M275.5,473.0C277.5,468.4 279.4,466.2 282.9,463.0C286.5,459.7 292.0,455.6 296.7,453.5C301.3,451.4 305.9,450.7 310.9,450.5C315.9,450.3 320.7,450.7 326.6,452.0C332.6,453.2 340.8,456.2 346.6,458.0C352.4,459.8 357.6,461.9 361.6,463.0C365.5,464.1 368.8,464.2 370.3,464.5"/><path d="M119.7,545.3C122.0,545.5 128.8,545.7 133.4,546.1C138.0,546.5 141.8,546.8 147.2,547.6C152.6,548.4 160.8,550.3 166.0,551.1C171.2,551.9 174.1,552.3 178.5,552.6C183.0,552.9 188.9,552.9 192.6,552.7C196.3,552.6 197.3,552.6 200.8,551.9C204.2,551.2 209.1,550.2 213.3,548.6C217.5,547.0 221.6,544.0 225.8,542.3C230.0,540.7 234.0,539.5 238.3,538.8C242.7,538.1 247.7,537.9 251.9,538.1C256.0,538.2 259.4,538.5 263.4,539.6C267.4,540.7 271.7,543.0 275.9,544.6C280.1,546.1 284.2,548.0 288.4,548.9C292.6,549.7 297.2,549.8 300.9,549.9C304.7,550.0 307.0,549.4 311.1,549.5C315.1,549.6 320.8,550.0 325.2,550.6C329.6,551.2 333.5,552.5 337.7,553.0C341.9,553.5 346.1,553.6 350.2,553.6C354.4,553.6 359.4,553.1 362.8,552.9C366.1,552.6 369.0,552.2 370.3,552.1"/><path d="M97.1,561.1C99.0,557.2 101.3,554.6 103.4,552.4C105.5,550.2 107.5,549.1 109.6,548.0C111.7,546.8 114.9,545.9 115.9,545.5"/><path d="M251.9,618.6C253.1,618.2 257.1,617.9 259.6,616.3C262.2,614.7 264.4,612.3 267.1,608.8C269.8,605.2 273.0,599.4 275.9,595.0C278.8,590.6 281.5,586.0 284.7,582.5C287.8,578.9 291.8,575.7 294.7,573.9C297.6,572.2 299.5,572.2 302.2,571.9C304.9,571.7 307.2,573.2 311.1,572.4C314.9,571.7 320.8,568.9 325.2,567.4C329.6,565.9 333.5,564.7 337.7,563.7C341.9,562.6 344.8,561.9 350.2,561.1C355.7,560.4 366.9,559.6 370.3,559.3"/><path d="M240.1,643.9C241.9,644.5 244.0,644.2 245.9,644.1C247.9,643.9 250.8,643.1 251.8,642.9"/><path d="M220.2,625.7C221.3,625.2 224.4,624.0 226.9,623.2C229.4,622.3 232.7,621.4 235.2,620.7C237.7,619.9 239.0,619.0 241.8,618.6C244.6,618.2 250.1,618.3 251.8,618.2"/><path d="M240.1,643.9C241.0,644.6 243.7,646.5 245.1,648.0C246.5,649.6 247.4,651.4 248.4,653.0C249.5,654.6 250.9,656.8 251.3,657.6"/><path d="M252.2,657.6C252.6,656.5 253.8,652.9 255.1,651.4C256.4,649.8 258.4,649.0 260.0,648.0C261.7,647.1 264.2,646.0 265.0,645.6"/><path d="M133.4,650.9C137.8,651.0 149.9,651.2 159.7,651.2C169.6,651.2 185.5,650.9 192.6,650.9C199.6,650.9 198.4,650.9 202.0,650.9C205.6,651.0 211.7,651.8 214.4,651.4"/><path d="M74.3,655.8C76.0,654.3 80.8,650.3 84.6,647.0C88.4,643.8 92.9,639.7 97.1,636.4C101.3,633.0 105.5,629.7 109.6,627.0C113.8,624.2 118.2,621.4 122.2,619.8C126.1,618.2 130.7,617.4 133.4,617.3C136.2,617.2 136.8,617.9 138.4,619.1C140.1,620.2 141.8,622.3 143.5,624.1C145.1,625.8 146.8,627.8 148.5,629.5C150.1,631.1 151.6,631.9 153.5,634.1C155.4,636.3 157.5,639.6 159.7,642.6C162.0,645.6 164.8,649.0 167.3,652.0C169.8,655.1 172.3,658.0 174.8,660.8C177.3,663.6 180.0,667.0 182.3,669.0C184.6,671.0 186.9,672.0 188.6,672.7C190.3,673.5 191.2,673.6 192.6,673.5C194.0,673.4 195.6,672.9 197.0,672.1C198.4,671.3 199.1,671.0 200.8,669.0C202.4,667.0 204.7,663.2 207.0,660.2C209.3,657.2 212.5,653.1 214.5,651.2C216.6,649.2 218.7,648.8 219.5,648.3"/><path d="M109.6,659.2C113.8,656.5 118.2,655.0 122.2,653.3C126.1,651.6 130.1,650.9 133.4,649.2C136.8,647.4 138.9,645.4 142.2,642.6C145.5,639.9 149.5,636.4 153.5,632.6C157.5,628.8 161.8,623.8 166.0,620.1C170.2,616.3 175.0,612.3 178.5,610.0C182.1,607.7 185.0,607.0 187.3,606.3C189.7,605.5 191.7,605.8 192.6,605.7"/><path d="M74.3,697.3C76.0,695.6 80.8,690.6 84.6,687.1C88.4,683.7 92.9,679.7 97.1,676.7C101.3,673.8 105.5,671.1 109.6,669.2C113.8,667.3 118.2,666.3 122.2,665.5"/><path d="M207.0,671.5C211.5,672.1 215.4,673.0 219.5,674.6C223.7,676.2 228.3,678.5 232.1,680.9C235.8,683.3 238.8,686.3 242.1,689.0C245.4,691.8 250.2,695.9 251.9,697.3"/><path d="M172.3,571.2C174.4,568.9 176.5,567.4 178.5,566.2C180.6,564.9 182.5,564.4 184.8,563.9C187.1,563.4 191.3,563.2 192.6,563.0"/><path d="M137.2,605.0C138.9,603.6 143.5,599.6 147.2,596.2C151.0,592.9 155.6,588.7 159.7,585.0C163.9,581.2 168.5,576.9 172.3,573.7C176.0,570.4 178.9,567.9 182.3,565.5C185.7,563.2 188.5,561.1 192.6,559.6C196.7,558.2 202.5,557.2 207.0,556.8C211.5,556.3 216.0,556.5 219.5,557.1C223.1,557.8 226.0,559.0 228.3,560.5C230.6,562.0 231.9,564.0 233.3,566.2"/><path d="M267.1,565.5C268.6,564.1 269.6,564.0 272.1,563.7C274.6,563.3 278.4,563.0 282.2,563.4C285.9,563.8 290.5,564.9 294.7,566.2C298.8,567.5 304.5,570.0 307.2,571.2C309.9,572.3 308.1,571.6 311.1,573.1"/><path d="M251.9,642.6C253.1,641.8 257.1,640.5 259.6,637.6C262.2,634.7 264.4,630.1 267.1,625.1"/><path d="M251.9,643.3C255.2,643.0 259.2,644.2 262.1,642.6C265.1,641.1 267.1,637.6 269.6,633.9"/><path d="M251.9,618.6C253.8,619.0 260.0,619.6 263.4,621.3C266.8,623.0 269.0,625.3 272.1,628.8C275.3,632.4 279.0,638.2 282.2,642.6C285.3,647.0 288.8,652.2 290.9,655.2C293.0,658.1 293.0,657.1 294.7,660.2"/><path d="M251.9,697.3C253.1,695.8 256.7,691.2 259.6,688.0C262.6,684.9 265.9,681.0 269.6,678.4C273.4,675.7 278.0,673.5 282.2,672.1C286.3,670.7 292.6,670.3 294.7,670.0"/><path d="M344.0,640.1C348.1,634.7 352.9,629.8 356.5,626.3C360.0,622.9 363.0,620.9 365.3,619.4C367.6,618.0 369.4,617.9 370.3,617.6"/><path d="M311.2,692.2C313.5,691.0 320.8,687.5 325.2,685.3C329.6,683.1 333.5,680.7 337.7,679.0C341.9,677.3 346.1,676.2 350.2,675.2C354.4,674.3 359.4,673.7 362.8,673.4C366.1,673.0 369.0,673.0 370.3,673.0"/><path d="M311.2,572.4C313.5,571.8 320.8,569.8 325.2,568.7C329.6,567.5 333.5,566.4 337.7,565.5C341.9,564.7 344.8,564.1 350.2,563.7C355.7,563.2 366.9,562.8 370.3,562.6"/></g>
<g id="bgreen" fill="none"><path d="M109.6,669.2C113.8,667.3 118.2,666.3 122.2,665.5C126.1,664.6 127.2,664.5 133.4,664.3C139.7,664.1 149.9,664.2 159.7,664.2C169.6,664.2 187.1,664.5 192.6,664.6"/><path d="M109.6,674.2C113.8,672.7 118.2,671.8 122.2,671.2C126.1,670.6 127.2,670.6 133.4,670.5C139.7,670.3 149.9,670.2 159.7,670.2C169.6,670.3 184.7,670.5 192.6,670.7C200.5,670.9 202.5,670.8 207.0,671.5C211.5,672.1 215.4,673.0 219.5,674.6"/><path d="M193.7,665.0C195.1,664.7 199.2,663.7 202.0,663.0C204.8,662.2 207.5,661.1 210.3,660.5C213.1,659.9 215.8,659.4 218.6,659.2C221.3,659.1 224.4,659.2 226.9,659.7C229.4,660.1 231.7,660.9 233.5,662.1"/></g>
<g id="bdots" fill="none"><path d="M74.3,537.9C75.8,537.4 80.7,537.0 83.3,534.9C85.8,532.8 87.2,530.4 89.5,525.4C91.8,520.5 94.7,511.3 97.0,505.5C99.3,499.6 101.2,494.3 103.3,490.5"/><path d="M224.3,478.0C226.4,481.9 228.5,486.7 230.5,493.0C232.6,499.2 234.7,509.0 236.8,515.4C238.9,521.9 240.5,528.0 243.0,531.7"/><path d="M259.2,532.9C261.5,529.3 263.6,522.5 265.5,515.4C267.3,508.4 268.8,497.5 270.5,490.5C272.1,483.4 273.4,477.6 275.5,473.0"/><path d="M192.5,559.9C193.9,561.1 197.3,563.4 200.8,567.4C204.2,571.4 209.1,577.7 213.3,583.7C217.5,589.8 222.3,598.1 225.8,603.8C229.4,609.4 231.9,613.2 234.6,617.6C237.3,621.9 240.0,626.5 242.1,630.1C244.2,633.7 245.5,636.8 247.1,638.9C248.7,641.0 251.1,642.0 251.9,642.6"/><path d="M74.3,655.8C74.8,654.4 76.0,651.9 77.1,647.7C78.1,643.4 79.6,636.2 80.8,630.1C82.1,624.0 83.3,617.6 84.6,611.3C85.8,605.0 87.1,598.3 88.3,592.5C89.6,586.6 90.6,581.4 92.1,576.2C93.6,571.0 95.2,565.1 97.1,561.1"/><path d="M226.9,633.1C229.4,635.6 233.0,638.8 235.2,640.6C237.4,642.4 238.3,643.3 240.1,643.9"/><path d="M74.3,697.3C76.0,695.1 80.8,688.9 84.6,684.3C88.4,679.6 92.9,673.4 97.1,669.2C101.3,665.0 105.5,661.8 109.6,659.2"/><path d="M233.5,662.1C235.3,663.4 236.3,664.6 237.7,667.1C239.0,669.6 240.3,673.6 241.8,677.1C243.3,680.5 245.1,684.5 246.8,687.8C248.4,691.2 250.9,695.7 251.8,697.3"/><path d="M137.2,635.1C138.0,634.3 140.5,632.6 142.2,630.1C143.9,627.6 145.3,623.8 147.2,620.1C149.1,616.3 151.4,612.1 153.5,607.5C155.6,602.9 157.7,597.1 159.7,592.5C161.8,587.9 163.9,583.5 166.0,579.9C168.1,576.4 170.2,573.5 172.3,571.2"/><path d="M233.3,566.2C234.8,568.4 236.0,570.8 237.1,573.7C238.1,576.6 238.7,579.3 239.6,583.7C240.4,588.1 241.3,594.6 242.1,600.0C242.9,605.4 243.8,611.3 244.6,616.3C245.4,621.3 246.3,626.3 247.1,630.1C247.9,633.9 248.8,636.8 249.6,638.9C250.4,641.0 251.5,642.0 251.9,642.6"/><path d="M192.5,563.0C193.9,564.1 197.7,565.8 200.8,569.3C203.8,572.7 207.0,577.8 210.8,583.7C214.5,589.7 219.8,599.0 223.3,605.0C226.9,611.1 229.4,615.5 232.1,620.1C234.8,624.7 237.1,629.1 239.6,632.6C242.1,636.2 245.0,639.6 247.1,641.4C249.1,643.2 251.1,643.0 251.9,643.3"/><path d="M251.9,642.6C252.5,638.5 254.6,626.3 255.9,617.6C257.2,608.8 258.4,597.5 259.6,590.0C260.9,582.5 262.1,576.5 263.4,572.4C264.6,568.4 265.7,567.0 267.1,565.5"/><path d="M267.1,625.1C269.8,620.1 273.0,613.0 275.9,607.5C278.8,602.1 281.5,597.1 284.7,592.5C287.8,587.9 291.3,583.2 294.7,579.9C298.0,576.7 302.0,574.3 304.7,573.1C307.4,571.8 310.0,572.5 311.1,572.4"/><path d="M269.6,633.9C272.1,630.1 274.4,625.3 277.1,620.1C279.9,614.8 283.0,608.2 285.9,602.5C288.8,596.9 291.8,590.6 294.7,586.2C297.6,581.8 300.7,578.4 303.4,576.2C306.2,574.0 309.8,573.6 311.1,573.1"/><path d="M294.7,660.2C296.3,663.3 298.8,669.4 300.9,674.0C303.0,678.6 305.5,684.7 307.2,687.8C308.9,690.8 310.4,691.4 311.1,692.2"/><path d="M251.9,697.3C252.7,695.5 255.2,690.0 257.1,686.5C259.0,683.0 261.3,679.4 263.4,676.5C265.5,673.6 267.3,670.9 269.6,669.0"/><path d="M311.2,572.4C313.5,574.1 321.2,578.3 325.2,582.5C329.2,586.6 332.1,592.1 335.2,597.5C338.3,602.9 341.1,609.2 344.0,615.1C346.9,620.9 350.0,627.8 352.7,632.6C355.5,637.4 358.0,641.1 360.3,643.9C362.5,646.7 364.8,648.4 366.5,649.5C368.2,650.7 369.6,650.6 370.3,650.8"/><path d="M311.2,692.2C312.7,689.8 316.8,683.3 320.2,677.7C323.6,672.2 327.5,665.2 331.5,658.9C335.4,652.7 339.8,645.6 344.0,640.1"/></g>
<g id="bsmear" fill="none"><path d="M90.8,669.6C94.0,669.3 102.5,668.1 109.6,667.7C116.7,667.4 119.6,667.5 133.4,667.5C147.3,667.5 179.3,667.6 192.6,667.7C205.9,667.9 207.1,667.8 213.3,668.3C219.5,668.9 225.4,669.5 229.6,670.8C233.7,672.2 236.9,675.5 238.3,676.5"/><path d="M262.1,674.0C263.4,673.1 266.3,669.9 269.6,669.0C273.0,668.0 275.2,668.4 282.2,668.3C289.1,668.3 296.4,668.7 311.1,668.7C325.8,668.8 360.4,668.7 370.3,668.7"/></g>
<filter id="blur0" x="-5%" y="-5%" width="110%" height="110%"><feGaussianBlur stdDeviation="0.9"/></filter>
<filter id="blur1" x="-5%" y="-5%" width="110%" height="110%"><feGaussianBlur stdDeviation="1.6"/></filter>
<filter id="blur2" x="-5%" y="-5%" width="110%" height="110%"><feGaussianBlur stdDeviation="3"/></filter>
<clipPath id="clipd"><rect x="74.3" y="401.3" width="296" height="296"/></clipPath>
</defs>
<g id="panel-d">
<text x="16.6" y="387.2" font-family='"Liberation Sans", sans-serif' font-size="27" text-anchor="start" font-weight="bold" font-style="normal" fill="#000">d</text>
<g transform="translate(0 0)"><rect x="74.3" y="401.3" width="296" height="296" fill="#440154"/><g clip-path="url(#clipd)"><use href="#bsmear" stroke="#375a8c" stroke-width="6" opacity="0.6" filter="url(#blur1)"/><use href="#bgreen" stroke="#2a788e" stroke-width="3.6" opacity="0.7" filter="url(#blur1)"/><use href="#bgreen" stroke="#5ec962" stroke-width="1.5" opacity="0.9"/><use href="#blow" stroke="#2fb47c" stroke-width="3.6" opacity="0.75" filter="url(#blur0)"/><use href="#blow" stroke="#7ad151" stroke-width="2.2" opacity="0.9"/><use href="#blow" stroke="#fde725" stroke-width="1.3"/><g filter="url(#blur0)"><use href="#bthick" stroke="#2fb47c" stroke-width="3.6" opacity="0.75"/><use href="#bthin" stroke="#2a9d8a" stroke-width="2.6" opacity="0.65"/></g><use href="#bthick" stroke="#7ad151" stroke-width="2.2" opacity="0.9"/><use href="#bthin" stroke="#5ec962" stroke-width="1.5" opacity="0.85"/><use href="#bthick" stroke="#fde725" stroke-width="1.3"/><use href="#bthin" stroke="#e6e419" stroke-width="0.95"/><use href="#bdots" stroke="#3b8f7a" stroke-width="2.6" stroke-dasharray="0.1 3.6" stroke-linecap="round" opacity="0.6"/><use href="#bdots" stroke="#b8de29" stroke-width="1.7" stroke-dasharray="0.1 3.6" stroke-linecap="round"/></g><text x="65" y="704.1999999999999" font-family='"DejaVu Sans", sans-serif' font-size="18.6" text-anchor="end" font-weight="normal" font-style="normal" fill="#000">0</text><line x1="74.3" y1="648.0" x2="82.6" y2="648.0" stroke="#000" stroke-width="1.5"/><line x1="370.3" y1="648.0" x2="362" y2="648.0" stroke="#000" stroke-width="1.5"/><text x="65" y="654.8699999999999" font-family='"DejaVu Sans", sans-serif' font-size="18.6" text-anchor="end" font-weight="normal" font-style="normal" fill="#000">5</text><line x1="74.3" y1="598.6" x2="82.6" y2="598.6" stroke="#000" stroke-width="1.5"/><line x1="370.3" y1="598.6" x2="362" y2="598.6" stroke="#000" stroke-width="1.5"/><text x="65" y="605.54" font-family='"DejaVu Sans", sans-serif' font-size="18.6" text-anchor="end" font-weight="normal" font-style="normal" fill="#000">10</text><line x1="74.3" y1="549.3" x2="82.6" y2="549.3" stroke="#000" stroke-width="1.5"/><line x1="370.3" y1="549.3" x2="362" y2="549.3" stroke="#000" stroke-width="1.5"/><text x="65" y="556.2099999999999" font-family='"DejaVu Sans", sans-serif' font-size="18.6" text-anchor="end" font-weight="normal" font-style="normal" fill="#000">15</text><line x1="74.3" y1="500.0" x2="82.6" y2="500.0" stroke="#000" stroke-width="1.5"/><line x1="370.3" y1="500.0" x2="362" y2="500.0" stroke="#000" stroke-width="1.5"/><text x="65" y="506.87999999999994" font-family='"DejaVu Sans", sans-serif' font-size="18.6" text-anchor="end" font-weight="normal" font-style="normal" fill="#000">20</text><line x1="74.3" y1="450.6" x2="82.6" y2="450.6" stroke="#000" stroke-width="1.5"/><line x1="370.3" y1="450.6" x2="362" y2="450.6" stroke="#000" stroke-width="1.5"/><text x="65" y="457.54999999999995" font-family='"DejaVu Sans", sans-serif' font-size="18.6" text-anchor="end" font-weight="normal" font-style="normal" fill="#000">25</text><text x="65" y="408.2199999999999" font-family='"DejaVu Sans", sans-serif' font-size="18.6" text-anchor="end" font-weight="normal" font-style="normal" fill="#000">30</text><text x="74.3" y="720.8" font-family='"DejaVu Sans", sans-serif' font-size="18.6" text-anchor="middle" font-weight="normal" font-style="normal" fill="#000">G</text><line x1="133.5" y1="697.3" x2="133.5" y2="689" stroke="#000" stroke-width="1.5"/><line x1="133.5" y1="401.3" x2="133.5" y2="409.6" stroke="#000" stroke-width="1.5"/><text x="133.5" y="720.8" font-family='"DejaVu Sans", sans-serif' font-size="18.6" text-anchor="middle" font-weight="normal" font-style="normal" fill="#000">X</text><line x1="192.7" y1="697.3" x2="192.7" y2="689" stroke="#000" stroke-width="1.5"/><line x1="192.7" y1="401.3" x2="192.7" y2="409.6" stroke="#000" stroke-width="1.5"/><text x="192.7" y="720.8" font-family='"DejaVu Sans", sans-serif' font-size="18.6" text-anchor="middle" font-weight="normal" font-style="normal" fill="#000">M</text><line x1="251.9" y1="697.3" x2="251.9" y2="689" stroke="#000" stroke-width="1.5"/><line x1="251.9" y1="401.3" x2="251.9" y2="409.6" stroke="#000" stroke-width="1.5"/><text x="251.90000000000003" y="720.8" font-family='"DejaVu Sans", sans-serif' font-size="18.6" text-anchor="middle" font-weight="normal" font-style="normal" fill="#000">G</text><line x1="311.1" y1="697.3" x2="311.1" y2="689" stroke="#000" stroke-width="1.5"/><line x1="311.1" y1="401.3" x2="311.1" y2="409.6" stroke="#000" stroke-width="1.5"/><text x="311.1" y="720.8" font-family='"DejaVu Sans", sans-serif' font-size="18.6" text-anchor="middle" font-weight="normal" font-style="normal" fill="#000">R</text><text x="370.3" y="720.8" font-family='"DejaVu Sans", sans-serif' font-size="18.6" text-anchor="middle" font-weight="normal" font-style="normal" fill="#000">M</text><rect x="74.3" y="401.3" width="296" height="296" fill="none" stroke="#000" stroke-width="2"/><text x="222" y="742.8" font-family='"DejaVu Sans", sans-serif' font-size="18.6" text-anchor="middle" font-weight="normal" font-style="normal" fill="#000">KPath</text><text x="35.5" y="549.5" font-family='"DejaVu Sans", sans-serif' font-size="18.3" text-anchor="middle" font-weight="normal" font-style="normal" fill="#000" transform="rotate(-90 35.5 549.5)">Frequency (THz)</text><text x="135" y="427.6" font-family='"Liberation Sans", sans-serif' font-size="24.3" text-anchor="start" font-weight="bold" font-style="normal" fill="#fff">SLTO</text></g>
</g>
<g id="panel-e">
<text x="417.5" y="386.7" font-family='"Liberation Sans", sans-serif' font-size="27" text-anchor="start" font-weight="bold" font-style="normal" fill="#000">e</text>
<g transform="translate(389.9 0)"><rect x="74.3" y="401.3" width="296" height="296" fill="#440154"/><g clip-path="url(#clipd)"><g filter="url(#blur1)"><rect x="70" y="668.3" width="305" height="5.4" fill="#1f968b" opacity="0.85"/><rect x="70" y="661.2" width="305" height="5" fill="#31688e" opacity="0.8"/><rect x="70" y="647" width="305" height="10" fill="#3e4989" opacity="0.75"/><ellipse cx="90" cy="643.5" rx="26" ry="4.5" fill="#1f9e89" opacity="0.85"/><ellipse cx="120" cy="652" rx="50" ry="5" fill="#2c728e" opacity="0.6"/><ellipse cx="252" cy="650" rx="32" ry="11" fill="#26828e" opacity="0.85"/><ellipse cx="252" cy="644" rx="18" ry="5" fill="#1f9e89" opacity="0.8"/><rect x="290" y="643" width="85" height="5" fill="#414487" opacity="0.7"/></g><use href="#bsmear" stroke="#375a8c" stroke-width="6" opacity="0.6" filter="url(#blur1)"/><use href="#bgreen" stroke="#2a788e" stroke-width="3.6" opacity="0.7" filter="url(#blur1)"/><use href="#bgreen" stroke="#35b779" stroke-width="1.3" opacity="0.7"/><use href="#blow" stroke="#1f9e89" stroke-width="3.4" opacity="0.8" filter="url(#blur0)"/><use href="#blow" stroke="#4ac16d" stroke-width="1.2" opacity="0.8"/><g filter="url(#blur0)"><use href="#bthick" stroke="#2fb47c" stroke-width="3.6" opacity="0.75"/><use href="#bthin" stroke="#2a9d8a" stroke-width="2.6" opacity="0.65"/></g><use href="#bthick" stroke="#7ad151" stroke-width="2.2" opacity="0.9"/><use href="#bthin" stroke="#5ec962" stroke-width="1.5" opacity="0.85"/><use href="#bthick" stroke="#fde725" stroke-width="1.3"/><use href="#bthin" stroke="#e6e419" stroke-width="0.95"/><use href="#bdots" stroke="#3b8f7a" stroke-width="2.6" stroke-dasharray="0.1 3.6" stroke-linecap="round" opacity="0.6"/><use href="#bdots" stroke="#b8de29" stroke-width="1.7" stroke-dasharray="0.1 3.6" stroke-linecap="round"/></g><text x="65" y="704.1999999999999" font-family='"DejaVu Sans", sans-serif' font-size="18.6" text-anchor="end" font-weight="normal" font-style="normal" fill="#000">0</text><line x1="74.3" y1="648.0" x2="82.6" y2="648.0" stroke="#000" stroke-width="1.5"/><line x1="370.3" y1="648.0" x2="362" y2="648.0" stroke="#000" stroke-width="1.5"/><text x="65" y="654.8699999999999" font-family='"DejaVu Sans", sans-serif' font-size="18.6" text-anchor="end" font-weight="normal" font-style="normal" fill="#000">5</text><line x1="74.3" y1="598.6" x2="82.6" y2="598.6" stroke="#000" stroke-width="1.5"/><line x1="370.3" y1="598.6" x2="362" y2="598.6" stroke="#000" stroke-width="1.5"/><text x="65" y="605.54" font-family='"DejaVu Sans", sans-serif' font-size="18.6" text-anchor="end" font-weight="normal" font-style="normal" fill="#000">10</text><line x1="74.3" y1="549.3" x2="82.6" y2="549.3" stroke="#000" stroke-width="1.5"/><line x1="370.3" y1="549.3" x2="362" y2="549.3" stroke="#000" stroke-width="1.5"/><text x="65" y="556.2099999999999" font-family='"DejaVu Sans", sans-serif' font-size="18.6" text-anchor="end" font-weight="normal" font-style="normal" fill="#000">15</text><line x1="74.3" y1="500.0" x2="82.6" y2="500.0" stroke="#000" stroke-width="1.5"/><line x1="370.3" y1="500.0" x2="362" y2="500.0" stroke="#000" stroke-width="1.5"/><text x="65" y="506.87999999999994" font-family='"DejaVu Sans", sans-serif' font-size="18.6" text-anchor="end" font-weight="normal" font-style="normal" fill="#000">20</text><line x1="74.3" y1="450.6" x2="82.6" y2="450.6" stroke="#000" stroke-width="1.5"/><line x1="370.3" y1="450.6" x2="362" y2="450.6" stroke="#000" stroke-width="1.5"/><text x="65" y="457.54999999999995" font-family='"DejaVu Sans", sans-serif' font-size="18.6" text-anchor="end" font-weight="normal" font-style="normal" fill="#000">25</text><text x="65" y="408.2199999999999" font-family='"DejaVu Sans", sans-serif' font-size="18.6" text-anchor="end" font-weight="normal" font-style="normal" fill="#000">30</text><text x="74.3" y="720.8" font-family='"DejaVu Sans", sans-serif' font-size="18.6" text-anchor="middle" font-weight="normal" font-style="normal" fill="#000">G</text><line x1="133.5" y1="697.3" x2="133.5" y2="689" stroke="#000" stroke-width="1.5"/><line x1="133.5" y1="401.3" x2="133.5" y2="409.6" stroke="#000" stroke-width="1.5"/><text x="133.5" y="720.8" font-family='"DejaVu Sans", sans-serif' font-size="18.6" text-anchor="middle" font-weight="normal" font-style="normal" fill="#000">X</text><line x1="192.7" y1="697.3" x2="192.7" y2="689" stroke="#000" stroke-width="1.5"/><line x1="192.7" y1="401.3" x2="192.7" y2="409.6" stroke="#000" stroke-width="1.5"/><text x="192.7" y="720.8" font-family='"DejaVu Sans", sans-serif' font-size="18.6" text-anchor="middle" font-weight="normal" font-style="normal" fill="#000">M</text><line x1="251.9" y1="697.3" x2="251.9" y2="689" stroke="#000" stroke-width="1.5"/><line x1="251.9" y1="401.3" x2="251.9" y2="409.6" stroke="#000" stroke-width="1.5"/><text x="251.90000000000003" y="720.8" font-family='"DejaVu Sans", sans-serif' font-size="18.6" text-anchor="middle" font-weight="normal" font-style="normal" fill="#000">G</text><line x1="311.1" y1="697.3" x2="311.1" y2="689" stroke="#000" stroke-width="1.5"/><line x1="311.1" y1="401.3" x2="311.1" y2="409.6" stroke="#000" stroke-width="1.5"/><text x="311.1" y="720.8" font-family='"DejaVu Sans", sans-serif' font-size="18.6" text-anchor="middle" font-weight="normal" font-style="normal" fill="#000">R</text><text x="370.3" y="720.8" font-family='"DejaVu Sans", sans-serif' font-size="18.6" text-anchor="middle" font-weight="normal" font-style="normal" fill="#000">M</text><rect x="74.3" y="401.3" width="296" height="296" fill="none" stroke="#000" stroke-width="2"/><text x="222" y="742.8" font-family='"DejaVu Sans", sans-serif' font-size="18.6" text-anchor="middle" font-weight="normal" font-style="normal" fill="#000">KPath</text><text x="35.5" y="549.5" font-family='"DejaVu Sans", sans-serif' font-size="18.3" text-anchor="middle" font-weight="normal" font-style="normal" fill="#000" transform="rotate(-90 35.5 549.5)">Frequency (THz)</text><text x="130.5" y="427.6" font-family='"Liberation Sans", sans-serif' font-size="24.3" text-anchor="start" font-weight="bold" font-style="normal" fill="#fff">SBCPLTO</text></g>
</g>
<g id="panel-f">
<text x="818.5" y="388" font-family='"Liberation Sans", sans-serif' font-size="27" text-anchor="start" font-weight="bold" font-style="normal" fill="#000">f</text>
<clipPath id="clipf"><rect x="825.2" y="401.8" width="366.8" height="295"/></clipPath>
<g clip-path="url(#clipf)" fill="none" stroke-width="2.3" stroke-linejoin="round">
<path d="M825.4,662.9C833.3,662.9 863.7,663.3 873.1,662.9C882.5,662.4 879.2,661.5 881.8,660.1C884.4,658.6 886.1,657.3 888.8,654.2C891.4,651.0 893.7,648.0 897.5,641.3C901.2,634.6 906.7,623.9 911.4,614.1C916.0,604.4 920.7,594.4 925.3,582.8C930.0,571.2 934.6,555.5 939.3,544.5C943.9,533.5 948.5,524.2 953.2,516.7C957.8,509.1 962.5,504.2 967.1,499.3C971.8,494.3 976.4,491.1 981.1,487.1C985.7,483.0 990.9,480.4 995.0,474.9C999.1,469.4 1002.2,460.7 1005.4,454.0C1008.6,447.3 1011.2,439.2 1014.1,434.8C1017.0,430.5 1019.7,429.3 1022.9,427.9C1026.0,426.4 1030.1,426.0 1033.3,426.1C1036.5,426.3 1039.1,426.3 1042.0,428.6C1044.9,430.9 1047.5,434.7 1050.7,440.1C1053.9,445.5 1057.7,454.6 1061.2,461.0C1064.6,467.3 1068.4,474.5 1071.6,478.4C1074.8,482.3 1077.4,484.3 1080.3,484.3C1083.2,484.3 1085.8,481.0 1089.0,478.4C1092.2,475.8 1096.0,469.8 1099.5,468.6C1103.0,467.5 1106.4,468.9 1109.9,471.4C1113.4,473.9 1116.9,480.4 1120.4,483.6C1123.9,486.8 1127.3,489.7 1130.8,490.5C1134.3,491.4 1137.2,490.0 1141.3,488.8C1145.3,487.6 1150.6,485.3 1155.2,483.6C1159.9,481.8 1165.1,479.4 1169.1,478.4C1173.2,477.4 1175.8,477.5 1179.6,477.7C1183.4,477.8 1189.8,479.1 1191.8,479.4" stroke="#4d4d4d"/>
<path d="M825.4,644.8C826.1,645.2 821.6,647.0 829.5,647.6C837.5,648.1 864.4,648.3 873.1,647.9C881.8,647.6 879.2,646.7 881.8,645.5C884.4,644.2 886.1,642.9 888.8,640.2C891.4,637.6 893.7,635.6 897.5,629.8C901.2,624.0 906.7,614.7 911.4,605.4C916.0,596.1 920.7,585.7 925.3,574.1C930.0,562.5 934.6,547.1 939.3,535.8C943.9,524.5 949.1,513.0 953.2,506.2C957.3,499.4 960.2,497.3 963.6,495.1C967.1,492.9 970.0,493.0 974.1,493.0C978.2,493.0 983.4,496.1 988.0,495.1C992.7,494.1 997.9,491.0 1002.0,487.1C1006.0,483.1 1008.9,478.1 1012.4,471.4C1015.9,464.7 1019.4,453.8 1022.9,447.0C1026.3,440.2 1030.3,434.1 1033.3,430.7C1036.3,427.2 1038.1,425.2 1041.0,426.5C1043.9,427.8 1047.3,432.0 1050.7,438.3C1054.1,444.7 1057.7,456.3 1061.2,464.4C1064.6,472.6 1068.1,481.4 1071.6,487.1C1075.1,492.7 1079.2,496.1 1082.1,498.2C1085.0,500.4 1086.1,500.1 1089.0,499.9C1091.9,499.8 1094.8,499.1 1099.5,497.5C1104.1,495.9 1111.1,492.6 1116.9,490.5C1122.7,488.5 1128.5,487.0 1134.3,485.3C1140.1,483.7 1147.1,481.6 1151.7,480.8C1156.4,480.0 1158.1,480.2 1162.2,480.8C1166.2,481.4 1171.2,482.8 1176.1,484.3C1181.0,485.8 1189.2,488.9 1191.8,489.9" stroke="#ee3a43"/>
<path d="M825.4,652.4C826.3,652.8 823.3,654.5 831.3,654.9C839.2,655.3 864.7,655.4 873.1,654.9C881.5,654.3 879.2,653.2 881.8,651.7C884.4,650.3 886.1,649.1 888.8,646.2C891.4,643.3 893.7,640.7 897.5,634.3C901.2,627.9 906.7,617.5 911.4,607.9C916.0,598.2 920.7,588.8 925.3,576.5C930.0,564.2 934.6,546.9 939.3,534.1C943.9,521.2 948.5,508.8 953.2,499.3C957.8,489.7 963.6,481.3 967.1,476.6C970.6,472.0 970.6,473.4 974.1,471.4C977.6,469.4 983.4,466.8 988.0,464.4C992.7,462.1 997.3,460.7 1002.0,457.5C1006.6,454.3 1011.2,449.4 1015.9,445.3C1020.5,441.2 1025.8,436.1 1029.8,433.1C1033.9,430.1 1037.4,428.3 1040.3,427.2C1043.2,426.1 1044.3,425.2 1047.2,426.5C1050.1,427.8 1054.2,430.8 1057.7,434.8C1061.2,438.9 1064.1,445.3 1068.1,450.5C1072.2,455.7 1078.0,462.8 1082.1,466.2C1086.1,469.5 1088.4,470.1 1092.5,470.7C1096.6,471.3 1101.8,470.2 1106.4,469.7C1111.1,469.1 1113.4,467.9 1120.4,467.2C1127.3,466.5 1140.1,466.1 1148.2,465.5C1156.4,464.8 1163.9,463.7 1169.1,463.4C1174.4,463.0 1175.8,463.0 1179.6,463.4C1183.4,463.7 1189.8,465.1 1191.8,465.5" stroke="#1f6be0"/>
<path d="M825.4,644.8C826.3,645.3 823.3,647.7 831.3,648.3C839.2,648.8 865.0,648.7 873.1,648.3C881.2,647.8 877.7,647.2 880.0,645.5C882.4,643.7 884.7,642.4 887.0,637.8C889.3,633.2 891.7,624.5 894.0,617.6C896.3,610.8 898.0,604.9 900.9,596.7C903.8,588.6 908.5,575.3 911.4,568.9C914.3,562.5 916.0,561.9 918.4,558.4C920.7,555.0 921.8,555.5 925.3,548.0C928.8,540.4 934.6,524.8 939.3,513.2C943.9,501.6 949.1,487.5 953.2,478.4C957.3,469.2 960.2,463.0 963.6,458.2C967.1,453.3 970.0,451.4 974.1,449.1C978.2,446.9 983.4,446.4 988.0,444.6C992.7,442.8 997.3,440.8 1002.0,438.3C1006.6,435.8 1011.2,431.7 1015.9,429.6C1020.5,427.6 1025.8,426.6 1029.8,426.1C1033.9,425.7 1036.2,425.7 1040.3,427.2C1044.3,428.6 1049.6,431.9 1054.2,434.8C1058.8,437.7 1063.5,442.3 1068.1,444.6C1072.8,446.9 1076.8,448.4 1082.1,448.8C1087.3,449.2 1092.5,447.9 1099.5,447.0C1106.4,446.2 1116.9,445.0 1123.9,443.6C1130.8,442.1 1136.1,440.1 1141.3,438.3C1146.5,436.6 1150.9,434.3 1155.2,433.1C1159.6,431.9 1163.3,431.2 1167.4,431.0C1171.5,430.8 1175.5,431.4 1179.6,432.1C1183.7,432.7 1189.8,434.4 1191.8,434.8" stroke="#2fa565"/>
</g>
<line x1="845.9" y1="696.8" x2="845.9" y2="691.3" stroke="#000" stroke-width="1.6"/><line x1="886.5" y1="696.8" x2="886.5" y2="691.3" stroke="#000" stroke-width="1.6"/><line x1="927.1" y1="696.8" x2="927.1" y2="691.3" stroke="#000" stroke-width="1.6"/><line x1="967.7" y1="696.8" x2="967.7" y2="691.3" stroke="#000" stroke-width="1.6"/><line x1="1008.3" y1="696.8" x2="1008.3" y2="691.3" stroke="#000" stroke-width="1.6"/><line x1="1048.9" y1="696.8" x2="1048.9" y2="691.3" stroke="#000" stroke-width="1.6"/><line x1="1089.5" y1="696.8" x2="1089.5" y2="691.3" stroke="#000" stroke-width="1.6"/><line x1="1130.1" y1="696.8" x2="1130.1" y2="691.3" stroke="#000" stroke-width="1.6"/><line x1="1170.7" y1="696.8" x2="1170.7" y2="691.3" stroke="#000" stroke-width="1.6"/>
<line x1="866.2" y1="696.8" x2="866.2" y2="693.5999999999999" stroke="#000" stroke-width="1.6"/><line x1="906.8" y1="696.8" x2="906.8" y2="693.5999999999999" stroke="#000" stroke-width="1.6"/><line x1="947.4" y1="696.8" x2="947.4" y2="693.5999999999999" stroke="#000" stroke-width="1.6"/><line x1="988.0" y1="696.8" x2="988.0" y2="693.5999999999999" stroke="#000" stroke-width="1.6"/><line x1="1028.6" y1="696.8" x2="1028.6" y2="693.5999999999999" stroke="#000" stroke-width="1.6"/><line x1="1069.2" y1="696.8" x2="1069.2" y2="693.5999999999999" stroke="#000" stroke-width="1.6"/><line x1="1109.8" y1="696.8" x2="1109.8" y2="693.5999999999999" stroke="#000" stroke-width="1.6"/><line x1="1150.4" y1="696.8" x2="1150.4" y2="693.5999999999999" stroke="#000" stroke-width="1.6"/>
<text x="845.9" y="718" font-family='"Liberation Sans", sans-serif' font-size="17.3" text-anchor="middle" font-weight="normal" font-style="normal" fill="#000">20</text>
<text x="886.5" y="718" font-family='"Liberation Sans", sans-serif' font-size="17.3" text-anchor="middle" font-weight="normal" font-style="normal" fill="#000">40</text>
<text x="927.0999999999999" y="718" font-family='"Liberation Sans", sans-serif' font-size="17.3" text-anchor="middle" font-weight="normal" font-style="normal" fill="#000">60</text>
<text x="967.6999999999999" y="718" font-family='"Liberation Sans", sans-serif' font-size="17.3" text-anchor="middle" font-weight="normal" font-style="normal" fill="#000">80</text>
<text x="1008.3" y="718" font-family='"Liberation Sans", sans-serif' font-size="17.3" text-anchor="middle" font-weight="normal" font-style="normal" fill="#000">100</text>
<text x="1048.8999999999999" y="718" font-family='"Liberation Sans", sans-serif' font-size="17.3" text-anchor="middle" font-weight="normal" font-style="normal" fill="#000">120</text>
<text x="1089.5" y="718" font-family='"Liberation Sans", sans-serif' font-size="17.3" text-anchor="middle" font-weight="normal" font-style="normal" fill="#000">140</text>
<text x="1130.1" y="718" font-family='"Liberation Sans", sans-serif' font-size="17.3" text-anchor="middle" font-weight="normal" font-style="normal" fill="#000">160</text>
<text x="1170.6999999999998" y="718" font-family='"Liberation Sans", sans-serif' font-size="17.3" text-anchor="middle" font-weight="normal" font-style="normal" fill="#000">180</text>
<line x1="1040.3" y1="580.4" x2="1074.4" y2="580.4" stroke="#4d4d4d" stroke-width="2"/>
<text x="1079.3" y="585.8" font-family='"Liberation Sans", sans-serif' font-size="15.4" text-anchor="start" font-weight="normal" font-style="normal" fill="#000">SLTO</text>
<line x1="1040.3" y1="598.8" x2="1074.4" y2="598.8" stroke="#ee3a43" stroke-width="2"/>
<text x="1079.3" y="604.1999999999999" font-family='"Liberation Sans", sans-serif' font-size="15.4" text-anchor="start" font-weight="normal" font-style="normal" fill="#000">SBLTO</text>
<line x1="1040.3" y1="617.6" x2="1074.4" y2="617.6" stroke="#1f6be0" stroke-width="2"/>
<text x="1079.3" y="623.0" font-family='"Liberation Sans", sans-serif' font-size="15.4" text-anchor="start" font-weight="normal" font-style="normal" fill="#000">SBCLTO</text>
<line x1="1040.3" y1="636.1" x2="1074.4" y2="636.1" stroke="#2fa565" stroke-width="2"/>
<text x="1079.3" y="641.5" font-family='"Liberation Sans", sans-serif' font-size="15.4" text-anchor="start" font-weight="normal" font-style="normal" fill="#000">SBCPLTO</text>
<text x="1008" y="752" font-family='"Liberation Sans", sans-serif' font-size="19.7" text-anchor="middle">Wavenumber (cm<tspan dy="-7" font-size="12.5">−1</tspan><tspan dy="7">)</tspan></text>
<text x="812.5" y="550" font-family='"Liberation Sans", sans-serif' font-size="19.5" text-anchor="middle" font-weight="normal" font-style="normal" fill="#000" transform="rotate(-90 812.5 550)">Intensity (arb. units)</text>
<rect x="825.2" y="402.4" width="366.1" height="294.4" fill="none" stroke="#000" stroke-width="2"/>
</g>
<defs>
<filter id="ftem" filterUnits="userSpaceOnUse" x="40" y="760" width="500" height="640" color-interpolation-filters="sRGB"><feGaussianBlur in="SourceGraphic" stdDeviation="14" result="bg"/><feTurbulence type="fractalNoise" baseFrequency="0.62" numOctaves="2" seed="7" result="n"/><feColorMatrix in="n" type="matrix" values="1 0 0 0 0  1 0 0 0 0  1 0 0 0 0  0 0 0 0 1" result="ng"/><feComposite in="bg" in2="ng" operator="arithmetic" k1="0" k2="1" k3="0.54" k4="-0.27" result="c1"/><feTurbulence type="fractalNoise" baseFrequency="0.035 0.045" numOctaves="3" seed="10" result="n2"/><feColorMatrix in="n2" type="matrix" values="1 0 0 0 0  1 0 0 0 0  1 0 0 0 0  0 0 0 0 1" result="n2g"/><feComposite in="c1" in2="n2g" operator="arithmetic" k1="0" k2="1" k3="0.13" k4="-0.065"/></filter>
<filter id="ftem2" filterUnits="userSpaceOnUse" x="40" y="760" width="500" height="640" color-interpolation-filters="sRGB"><feGaussianBlur in="SourceGraphic" stdDeviation="9" result="bg"/><feTurbulence type="fractalNoise" baseFrequency="0.62" numOctaves="2" seed="12" result="n"/><feColorMatrix in="n" type="matrix" values="1 0 0 0 0  1 0 0 0 0  1 0 0 0 0  0 0 0 0 1" result="ng"/><feComposite in="bg" in2="ng" operator="arithmetic" k1="0" k2="1" k3="0.54" k4="-0.27" result="c1"/><feTurbulence type="fractalNoise" baseFrequency="0.035 0.045" numOctaves="3" seed="15" result="n2"/><feColorMatrix in="n2" type="matrix" values="1 0 0 0 0  1 0 0 0 0  1 0 0 0 0  0 0 0 0 1" result="n2g"/><feComposite in="c1" in2="n2g" operator="arithmetic" k1="0" k2="1" k3="0.13" k4="-0.065"/></filter>
<filter id="fblur1" x="-5%" y="-50%" width="110%" height="200%"><feGaussianBlur stdDeviation="0.8"/></filter>
<filter id="fblur8" x="-20%" y="-20%" width="140%" height="140%"><feGaussianBlur stdDeviation="7"/></filter>
<linearGradient id="gfr" x1="0" y1="0" x2="0" y2="1"><stop offset="0" stop-color="#7f7f7f"/><stop offset="0.25" stop-color="#f4f4f4"/><stop offset="0.5" stop-color="#7f7f7f"/><stop offset="0.75" stop-color="#0a0a0a"/><stop offset="1" stop-color="#7f7f7f"/></linearGradient>
<linearGradient id="pfh" gradientUnits="userSpaceOnUse" x1="0" y1="0" x2="0" y2="4.05" spreadMethod="repeat" gradientTransform="rotate(13)"><stop offset="0" stop-color="#7f7f7f"/><stop offset="0.125" stop-color="#cfcfcf"/><stop offset="0.25" stop-color="#f6f6f6"/><stop offset="0.375" stop-color="#cfcfcf"/><stop offset="0.5" stop-color="#7f7f7f"/><stop offset="0.625" stop-color="#2f2f2f"/><stop offset="0.75" stop-color="#080808"/><stop offset="0.875" stop-color="#2f2f2f"/><stop offset="1" stop-color="#7f7f7f"/></linearGradient>
<linearGradient id="pfk" gradientUnits="userSpaceOnUse" x1="0" y1="0" x2="0" y2="3.2" spreadMethod="repeat" gradientTransform="rotate(-64)"><stop offset="0" stop-color="#7f7f7f"/><stop offset="0.125" stop-color="#cfcfcf"/><stop offset="0.25" stop-color="#f6f6f6"/><stop offset="0.375" stop-color="#cfcfcf"/><stop offset="0.5" stop-color="#7f7f7f"/><stop offset="0.625" stop-color="#2f2f2f"/><stop offset="0.75" stop-color="#080808"/><stop offset="0.875" stop-color="#2f2f2f"/><stop offset="1" stop-color="#7f7f7f"/></linearGradient>
<filter id="fstr1" filterUnits="userSpaceOnUse" x="760" y="765" width="460" height="320" color-interpolation-filters="sRGB"><feGaussianBlur in="SourceGraphic" stdDeviation="14" result="bg"/><feTurbulence type="fractalNoise" baseFrequency="0.042 0.085" numOctaves="3" seed="11" result="n"/><feColorMatrix in="n" type="matrix" values="0.5 0 0 0 0.25  0.5 0 0 0 0.25  0.5 0 0 0 0.25  0 0 0 0 1" result="ng"/><feComposite in="bg" in2="ng" operator="arithmetic" k1="0" k2="1" k3="1" k4="-0.5" result="v"/><feTurbulence type="fractalNoise" baseFrequency="0.022 0.045" numOctaves="2" seed="16" result="n2"/><feColorMatrix in="n2" type="matrix" values="1 0 0 0 0  1 0 0 0 0  1 0 0 0 0  0 0 0 0 1" result="n2g"/><feComponentTransfer in="n2g" result="m0"><feFuncR type="table" tableValues="0 0 0 0 0 0 0 0 0 0 0 0 0 0 0 0 0 0 0 0 1 0 0 0 0 0 0 0 0 0 0 0 0 0 0 0 0 0 0 0 0"/><feFuncG type="table" tableValues="0 0 0 0 0 0 0 0 0 0 0 0 0 0 0 0 0 0 0 0 1 0 0 0 0 0 0 0 0 0 0 0 0 0 0 0 0 0 0 0 0"/><feFuncB type="table" tableValues="0 0 0 0 0 0 0 0 0 0 0 0 0 0 0 0 0 0 0 0 1 0 0 0 0 0 0 0 0 0 0 0 0 0 0 0 0 0 0 0 0"/></feComponentTransfer><feTurbulence type="fractalNoise" baseFrequency="0.01 0.014" numOctaves="1" seed="20" result="n4"/><feColorMatrix in="n4" type="matrix" values="0 1 0 0 0  0 1 0 0 0  0 1 0 0 0  0 0 0 0 1" result="n4g"/><feComponentTransfer in="n4g" result="sp"><feFuncR type="table" tableValues="0 0 0 0 0 0 0.6 1 1 1 1"/><feFuncG type="table" tableValues="0 0 0 0 0 0 0.6 1 1 1 1"/><feFuncB type="table" tableValues="0 0 0 0 0 0 0.6 1 1 1 1"/></feComponentTransfer><feComposite in="m0" in2="sp" operator="arithmetic" k1="1" k2="0" k3="0" k4="0" result="m1"/><feColorMatrix in="m1" type="matrix" values="1 0 0 0 0  1 0 0 0 0  1 0 0 0 0  0 0 0 0 1" result="mm"/><feGaussianBlur in="mm" stdDeviation="0.7" result="m"/><feTurbulence type="fractalNoise" baseFrequency="0.07 0.07" numOctaves="1" seed="13" result="n3"/><feColorMatrix in="n3" type="matrix" values="0 0 6 0 -2.5  0 0 6 0 -2.5  0 0 6 0 -2.5  0 0 0 0 1" result="n3s"/><feComposite in="m" in2="n3s" operator="arithmetic" k1="2.4" k2="-1.2" k3="0" k4="0.5" result="p"/><feComposite in="v" in2="p" operator="arithmetic" k1="0" k2="1" k3="1" k4="-0.5" result="v2"/><feComponentTransfer in="v2"><feFuncR type="table" tableValues="0 0 0 0 0 0 0 0 0.12 0.35 0.55 0.75 0.92 1 1 1 1 1 1 1 1"/><feFuncG type="table" tableValues="0 0 0.05 0.15 0.3 0.45 0.58 0.62 0.58 0.48 0.36 0.24 0.13 0.08 0.15 0.4 0.7 0.9 1 1 1"/><feFuncB type="table" tableValues="0 0.4 0.8 0.9 0.75 0.45 0.15 0 0 0 0 0 0 0 0 0 0.05 0.3 0.7 1 1"/><feFuncA type="linear" slope="0" intercept="1"/></feComponentTransfer></filter>
<filter id="fstr2" filterUnits="userSpaceOnUse" x="760" y="1080" width="460" height="320" color-interpolation-filters="sRGB"><feGaussianBlur in="SourceGraphic" stdDeviation="12" result="bg"/><feTurbulence type="fractalNoise" baseFrequency="0.042 0.07" numOctaves="3" seed="23" result="n"/><feColorMatrix in="n" type="matrix" values="1.3 0 0 0 -0.15000000000000002  1.3 0 0 0 -0.15000000000000002  1.3 0 0 0 -0.15000000000000002  0 0 0 0 1" result="ng"/><feComposite in="bg" in2="ng" operator="arithmetic" k1="0" k2="1" k3="1" k4="-0.5" result="v"/><feTurbulence type="fractalNoise" baseFrequency="0.035 0.05" numOctaves="2" seed="28" result="n2"/><feColorMatrix in="n2" type="matrix" values="1 0 0 0 0  1 0 0 0 0  1 0 0 0 0  0 0 0 0 1" result="n2g"/><feComponentTransfer in="n2g" result="m0"><feFuncR type="table" tableValues="0 0 0 0 0 0 0 0 0 0 0 0 0 0 0 0 0 0 0 0 1 0 0 0 0 0 0 0 0 0 0 0 0 0 0 0 0 0 0 0 0"/><feFuncG type="table" tableValues="0 0 0 0 0 0 0 0 0 0 0 0 0 0 0 0 0 0 0 0 1 0 0 0 0 0 0 0 0 0 0 0 0 0 0 0 0 0 0 0 0"/><feFuncB type="table" tableValues="0 0 0 0 0 0 0 0 0 0 0 0 0 0 0 0 0 0 0 0 1 0 0 0 0 0 0 0 0 0 0 0 0 0 0 0 0 0 0 0 0"/></feComponentTransfer><feTurbulence type="fractalNoise" baseFrequency="0.02 0.025" numOctaves="1" seed="32" result="n4"/><feColorMatrix in="n4" type="matrix" values="0 1 0 0 0  0 1 0 0 0  0 1 0 0 0  0 0 0 0 1" result="n4g"/><feComponentTransfer in="n4g" result="sp"><feFuncR type="table" tableValues="0 0 0 0 0 0.5 1 1 1 1 1"/><feFuncG type="table" tableValues="0 0 0 0 0 0.5 1 1 1 1 1"/><feFuncB type="table" tableValues="0 0 0 0 0 0.5 1 1 1 1 1"/></feComponentTransfer><feComposite in="m0" in2="sp" operator="arithmetic" k1="1" k2="0" k3="0" k4="0" result="m1"/><feColorMatrix in="m1" type="matrix" values="1 0 0 0 0  1 0 0 0 0  1 0 0 0 0  0 0 0 0 1" result="mm"/><feGaussianBlur in="mm" stdDeviation="0.7" result="m"/><feTurbulence type="fractalNoise" baseFrequency="0.07 0.07" numOctaves="1" seed="25" result="n3"/><feColorMatrix in="n3" type="matrix" values="0 0 6 0 -2.5  0 0 6 0 -2.5  0 0 6 0 -2.5  0 0 0 0 1" result="n3s"/><feComposite in="m" in2="n3s" operator="arithmetic" k1="2.0" k2="-1.0" k3="0" k4="0.5" result="p"/><feComposite in="v" in2="p" operator="arithmetic" k1="0" k2="1" k3="1" k4="-0.5" result="v2"/><feComponentTransfer in="v2"><feFuncR type="table" tableValues="0 0 0 0 0 0 0 0 0.12 0.35 0.55 0.75 0.92 1 1 1 1 1 1 1 1"/><feFuncG type="table" tableValues="0 0 0.05 0.15 0.3 0.45 0.58 0.62 0.58 0.48 0.36 0.24 0.13 0.08 0.15 0.4 0.7 0.9 1 1 1"/><feFuncB type="table" tableValues="0 0.4 0.8 0.9 0.75 0.45 0.15 0 0 0 0 0 0 0 0 0 0.05 0.3 0.7 1 1"/><feFuncA type="linear" slope="0" intercept="1"/></feComponentTransfer></filter>
<clipPath id="cg"><rect x="72" y="781" width="433" height="272.5"/></clipPath>
<clipPath id="ch"><rect x="510.5" y="782.3" width="269.3" height="268.7"/></clipPath>
<clipPath id="ci"><rect x="783.7" y="779.8" width="409.3" height="273"/></clipPath>
<clipPath id="cj"><rect x="72" y="1095" width="433" height="272.7"/></clipPath>
<clipPath id="ck"><rect x="510" y="1096" width="270" height="270"/></clipPath>
<clipPath id="cl"><rect x="783.7" y="1095" width="409.3" height="270.5"/></clipPath>
</defs>
<g id="panel-g">
<text x="53" y="770.4" font-family='"Liberation Sans", sans-serif' font-size="27" text-anchor="start" font-weight="bold" font-style="normal" fill="#000">g</text>
<g clip-path="url(#cg)"><g filter="url(#ftem)">
<rect x="40" y="760" width="500" height="320" fill="#5a5a5a"/>
<path d="M40,760H185L118,1080H40Z" fill="#3b3b3b"/>
<ellipse cx="200" cy="865" rx="24" ry="45" fill="#363636"/>
<ellipse cx="140" cy="935" rx="14" ry="55" fill="#3f3f3f" transform="rotate(12 140 935)"/>
<ellipse cx="300" cy="990" rx="110" ry="50" fill="#686868"/>
<ellipse cx="330" cy="850" rx="40" ry="30" fill="#5e5e5e"/>
<ellipse cx="470" cy="830" rx="35" ry="50" fill="#474747"/>
<ellipse cx="480" cy="990" rx="30" ry="60" fill="#4a4a4a"/>
<ellipse cx="90" cy="820" rx="30" ry="40" fill="#484848"/>
</g></g>
<path d="M175.6,783.7L168.7,812.2L152.8,881.8L140.2,934.6L129.6,983.1L116.6,1045.4" fill="none" stroke="#fff" stroke-width="2" stroke-dasharray="3.6 6.4"/>
<text x="82.8" y="787.5" font-family='"Liberation Sans", sans-serif' font-size="18.3" text-anchor="start" font-weight="bold" font-style="normal" fill="#fff" transform="rotate(90 82.8 787.5)">LSAT(001)</text>
<path d="M193.5,806.0L178.8,809.3L178.0,806.0L169.5,813.6L180.5,816.7L179.7,813.4L194.5,810.0Z" fill="#fff"/>
<text x="201" y="811.2" font-family='"Liberation Sans", sans-serif' font-size="18.1" text-anchor="start" font-weight="bold" font-style="normal" fill="#fff">Interface</text>
<text x="170.6" y="1043.4" font-family='"Liberation Sans", sans-serif' font-size="18.1" text-anchor="start" font-weight="bold" font-style="normal" fill="#fff">SLTO</text>
<rect x="367.2" y="781.8" width="136.5" height="136" fill="none" stroke="#fff" stroke-width="1.8" stroke-dasharray="6 2.6"/>
<text x="477.5" y="807.7" font-family='"Liberation Sans", sans-serif' font-size="21" text-anchor="start" font-weight="bold" font-style="normal" fill="#fff">h</text>
<text x="463" y="1032.5" font-family='"Liberation Sans", sans-serif' font-size="18.1" text-anchor="middle" font-weight="bold" font-style="normal" fill="#fff">10 nm</text>
<rect x="432" y="1036.6" width="61" height="7.2" fill="#fff"/>
</g>
<g id="panel-h">
<text x="499" y="770.6" font-family='"Liberation Sans", sans-serif' font-size="27" text-anchor="start" font-weight="bold" font-style="normal" fill="#000">h</text>
<g clip-path="url(#ch)">
<rect x="505" y="775" width="280" height="280" fill="url(#pfh)"/>
<g filter="url(#fblur8)" fill="#808080"><ellipse cx="575" cy="880" rx="20" ry="60" opacity="0.85" transform="rotate(-25 575 880)"/><ellipse cx="650" cy="960" rx="26" ry="80" opacity="0.8" transform="rotate(-40 650 960)"/><ellipse cx="535" cy="1010" rx="22" ry="40" opacity="0.7"/><ellipse cx="760" cy="830" rx="25" ry="50" opacity="0.6"/><ellipse cx="540" cy="800" rx="40" ry="18" opacity="0.6"/><ellipse cx="700" cy="1040" rx="70" ry="14" opacity="0.6"/><rect x="505" y="775" width="280" height="280" opacity="0.32"/></g>
</g>
<g transform="translate(586.9 979.9) rotate(102.5)" stroke="#ff1010" stroke-width="3.0" fill="none"><path d="M-5.0,0H5.0M0,0V6.7"/></g>
<g transform="translate(609.2 973.3) rotate(-79.5)" stroke="#ff1010" stroke-width="3.0" fill="none"><path d="M-5.0,0H5.0M0,0V6.7"/></g>
<g transform="translate(523.7 1047.7) rotate(-79.5)" stroke="#ff1010" stroke-width="3.0" fill="none"><path d="M-5.0,0H5.0M0,0V6.7"/></g>
<text x="770.5" y="802.5" font-family='"Liberation Sans", sans-serif' font-size="15.6" text-anchor="end" font-weight="bold" font-style="normal" fill="#fff">SLTO</text>
<text x="741.5" y="1034.5" font-family='"Liberation Sans", sans-serif' font-size="20.2" text-anchor="middle" font-weight="bold" font-style="normal" fill="#fff">5 nm</text>
<rect x="716" y="1038.5" width="54" height="6" fill="#fff"/>
</g>
<g id="panel-i">
<text x="779" y="770.6" font-family='"Liberation Sans", sans-serif' font-size="27" text-anchor="start" font-weight="bold" font-style="normal" fill="#000">i</text>
<g clip-path="url(#ci)"><g filter="url(#fstr1)">
<rect x="760" y="765" width="460" height="320" fill="#727272"/>
<ellipse cx="985" cy="848" rx="100" ry="68" fill="#878787"/>
<ellipse cx="1100" cy="870" rx="55" ry="35" fill="#808080"/>
<ellipse cx="815" cy="900" rx="35" ry="130" fill="#6c6c6c"/>
<rect x="760" y="995" width="460" height="90" fill="#606060"/>
<ellipse cx="1150" cy="995" rx="70" ry="60" fill="#4c4c4c"/>
<ellipse cx="830" cy="1040" rx="60" ry="22" fill="#525252"/>
<ellipse cx="960" cy="1012" rx="60" ry="14" fill="#8c8c8c"/>
</g></g>
<g clip-path="url(#ci)"><g filter="url(#fblur1)"><path d="M880,779H1032V783.5Q960,786 880,783Z" fill="#ff2a00"/><path d="M884,779H1028V781.6Q950,783.4 884,781.6Z" fill="#fff6b0"/><path d="M1050,779H1085V782.5H1050ZM1105,779H1135V782.5H1105ZM1150,779H1192V782.5H1150Z" fill="#ff3a00"/><path d="M1055,779H1080V781H1055ZM1110,779H1130V781H1110ZM1155,779H1190V781H1155Z" fill="#ffe060"/><path d="M925,1053H1192V1048.5Q1060,1046 925,1049.5Z" fill="#ff2a00"/><path d="M930,1053H1190V1050.6Q1060,1049 930,1051Z" fill="#fff6b0"/></g></g>
<path d="M866,782L855.5,838L842,901L827,971L813,1037L809,1052" fill="none" stroke="#fff" stroke-width="2" stroke-dasharray="3.6 6.4"/>
<text x="796" y="788" font-family='"Liberation Sans", sans-serif' font-size="17" text-anchor="start" font-weight="bold" font-style="normal" fill="#fff" transform="rotate(90 796 788)">LSAT(001)</text>
<path d="M892.5,808.0L875.2,803.5L876.1,800.2L865.0,803.0L873.3,810.8L874.2,807.5L891.5,812.0Z" fill="#fff"/>
<text x="900" y="812.5" font-family='"Liberation Sans", sans-serif' font-size="17.2" text-anchor="start" font-weight="bold" font-style="normal" fill="#fff">Interface</text>
<text x="1129" y="807" font-family='"Liberation Sans", sans-serif' font-size="17.2" text-anchor="start" font-weight="bold" font-style="normal" fill="#fff">SLTO</text>
<text x="827.6" y="1034.6" font-family='"Liberation Sans", sans-serif' font-size="16.4" font-weight="bold" fill="#fff">ε<tspan dy="5.6" font-size="10.4">yy</tspan></text>
<text x="1146" y="1028.5" font-family='"Liberation Sans", sans-serif' font-size="16.8" text-anchor="middle" font-weight="bold" font-style="normal" fill="#fff">10 nm</text>
<rect x="1118" y="1036.5" width="57.5" height="6.2" fill="#fff"/>
</g>
<g id="panel-j">
<text x="53.5" y="1089.5" font-family='"Liberation Sans", sans-serif' font-size="27" text-anchor="start" font-weight="bold" font-style="normal" fill="#000">j</text>
<g clip-path="url(#cj)"><g filter="url(#ftem2)">
<rect x="40" y="1075" width="500" height="320" fill="#4b4b4b"/>
<path d="M40,1150L470,1400H40Z" fill="#484848"/>
<path d="M40,1140L500,1400L470,1415L40,1170Z" fill="#5a5a5a"/>
<ellipse cx="271" cy="1152" rx="13" ry="30" fill="#1e1e1e" transform="rotate(20 271 1152)"/>
<ellipse cx="312" cy="1253" rx="12" ry="40" fill="#262626" transform="rotate(20 312 1253)"/>
<ellipse cx="427" cy="1152" rx="18" ry="42" fill="#222" transform="rotate(25 427 1152)"/>
<ellipse cx="416" cy="1282" rx="14" ry="36" fill="#282828" transform="rotate(22 416 1282)"/>
<ellipse cx="144" cy="1150" rx="12" ry="26" fill="#363636" transform="rotate(20 144 1150)"/>
<ellipse cx="336" cy="1185" rx="9" ry="30" fill="#383838" transform="rotate(20 336 1185)"/>
<ellipse cx="215" cy="1130" rx="10" ry="30" fill="#3c3c3c" transform="rotate(20 215 1130)"/>
<ellipse cx="285" cy="1320" rx="40" ry="24" fill="#6e6e6e" transform="rotate(25 285 1320)"/>
<ellipse cx="93" cy="1128" rx="26" ry="22" fill="#606060"/>
<ellipse cx="366" cy="1118" rx="9" ry="32" fill="#5c5c5c" transform="rotate(20 366 1118)"/>
<ellipse cx="240" cy="1200" rx="10" ry="40" fill="#5a5a5a" transform="rotate(20 240 1200)"/>
<ellipse cx="480" cy="1240" rx="14" ry="40" fill="#3a3a3a" transform="rotate(20 480 1240)"/>
<ellipse cx="492" cy="1345" rx="30" ry="30" fill="#3c3c3c"/>
<ellipse cx="120" cy="1300" rx="50" ry="30" fill="#444"/>
</g></g>
<path d="M72,1166L418,1362" fill="none" stroke="#fff" stroke-width="2" stroke-dasharray="3.6 6.4"/>
<text x="78" y="1113.5" font-family='"Liberation Sans", sans-serif' font-size="18.1" text-anchor="start" font-weight="bold" font-style="normal" fill="#fff">SBCPLTO</text>
<path d="M110.5,1208.1L111.1,1196.1L114.1,1196.2L109.5,1187.0L104.1,1195.8L107.1,1195.9L106.5,1207.9Z" fill="#fff"/>
<text x="80.5" y="1222.5" font-family='"Liberation Sans", sans-serif' font-size="18.1" text-anchor="start" font-weight="bold" font-style="normal" fill="#fff">Interface</text>
<text x="78" y="1357.5" font-family='"Liberation Sans", sans-serif' font-size="18.1" text-anchor="start" font-weight="bold" font-style="normal" fill="#fff">LSAT(001)</text>
<rect x="367.2" y="1096" width="136.5" height="136" fill="none" stroke="#fff" stroke-width="1.8" stroke-dasharray="6 2.6"/>
<text x="477" y="1124" font-family='"Liberation Sans", sans-serif' font-size="21" text-anchor="start" font-weight="bold" font-style="normal" fill="#fff">k</text>
<text x="463" y="1347" font-family='"Liberation Sans", sans-serif' font-size="18.1" text-anchor="middle" font-weight="bold" font-style="normal" fill="#fff">10 nm</text>
<rect x="432" y="1350.5" width="61" height="7.2" fill="#fff"/>
</g>
<g id="panel-k">
<text x="498.6" y="1089.5" font-family='"Liberation Sans", sans-serif' font-size="27" text-anchor="start" font-weight="bold" font-style="normal" fill="#000">k</text>
<g clip-path="url(#ck)">
<rect x="505" y="1090" width="280" height="280" fill="url(#pfk)"/>
<g filter="url(#fblur8)" fill="#808080"><ellipse cx="560" cy="1320" rx="40" ry="40" opacity="0.8"/><ellipse cx="700" cy="1150" rx="30" ry="60" opacity="0.7" transform="rotate(30 700 1150)"/><ellipse cx="640" cy="1280" rx="35" ry="50" opacity="0.75"/><ellipse cx="760" cy="1330" rx="30" ry="40" opacity="0.7"/><ellipse cx="530" cy="1130" rx="20" ry="40" opacity="0.6"/><ellipse cx="760" cy="1120" rx="25" ry="30" opacity="0.7"/><rect x="505" y="1090" width="280" height="280" opacity="0.4"/></g>
</g>
<g transform="translate(523.8 1107.6) rotate(35)" stroke="#ff1010" stroke-width="2.9" fill="none"><path d="M-5.8,0H5.8M0,0V7.5"/></g>
<g transform="translate(598.5 1129.7) rotate(35)" stroke="#ff1010" stroke-width="2.9" fill="none"><path d="M-5.8,0H5.8M0,0V7.5"/></g>
<g transform="translate(515.2 1166.9) rotate(210)" stroke="#ff1010" stroke-width="2.9" fill="none"><path d="M-5.8,0H5.8M0,0V7.5"/></g>
<g transform="translate(564.2 1179.2) rotate(210)" stroke="#ff1010" stroke-width="2.9" fill="none"><path d="M-5.8,0H5.8M0,0V7.5"/></g>
<g transform="translate(632.5 1228.0) rotate(30)" stroke="#ff1010" stroke-width="2.9" fill="none"><path d="M-5.8,0H5.8M0,0V7.5"/></g>
<g transform="translate(578.5 1241.0) rotate(30)" stroke="#ff1010" stroke-width="2.9" fill="none"><path d="M-5.8,0H5.8M0,0V7.5"/></g>
<g transform="translate(592.5 1247.5) rotate(30)" stroke="#ff1010" stroke-width="2.9" fill="none"><path d="M-5.8,0H5.8M0,0V7.5"/></g>
<g transform="translate(598.5 1263.5) rotate(210)" stroke="#ff1010" stroke-width="2.9" fill="none"><path d="M-5.8,0H5.8M0,0V7.5"/></g>
<g transform="translate(576.0 1273.5) rotate(210)" stroke="#ff1010" stroke-width="2.9" fill="none"><path d="M-5.8,0H5.8M0,0V7.5"/></g>
<g transform="translate(730.5 1248.5) rotate(30)" stroke="#ff1010" stroke-width="2.9" fill="none"><path d="M-5.8,0H5.8M0,0V7.5"/></g>
<g transform="translate(759.5 1256.0) rotate(30)" stroke="#ff1010" stroke-width="2.9" fill="none"><path d="M-5.8,0H5.8M0,0V7.5"/></g>
<g transform="translate(771.0 1280.0) rotate(210)" stroke="#ff1010" stroke-width="2.9" fill="none"><path d="M-5.8,0H5.8M0,0V7.5"/></g>
<g transform="translate(705.0 1104.5) rotate(210)" stroke="#ff1010" stroke-width="2.9" fill="none"><path d="M-5.8,0H5.8M0,0V7.5"/></g>
<g transform="translate(738.5 1103.5) rotate(210)" stroke="#ff1010" stroke-width="2.9" fill="none"><path d="M-5.8,0H5.8M0,0V7.5"/></g>
<g transform="translate(771.0 1105.0) rotate(210)" stroke="#ff1010" stroke-width="2.9" fill="none"><path d="M-5.8,0H5.8M0,0V7.5"/></g>
<g transform="translate(616.5 1355.0) rotate(210)" stroke="#ff1010" stroke-width="2.9" fill="none"><path d="M-5.8,0H5.8M0,0V7.5"/></g>
<g transform="translate(643.0 1348.5) rotate(30)" stroke="#ff1010" stroke-width="2.9" fill="none"><path d="M-5.8,0H5.8M0,0V7.5"/></g>
<g transform="translate(656.5 1345.0) rotate(210)" stroke="#ff1010" stroke-width="2.9" fill="none"><path d="M-5.8,0H5.8M0,0V7.5"/></g>
<text x="518" y="1359.3" font-family='"Liberation Sans", sans-serif' font-size="14.8" text-anchor="start" font-weight="bold" font-style="normal" fill="#fff">SBCPLTO</text>
<text x="746.5" y="1347.3" font-family='"Liberation Sans", sans-serif' font-size="20.6" text-anchor="middle" font-weight="bold" font-style="normal" fill="#fff">5 nm</text>
<rect x="717" y="1352.5" width="59" height="7" fill="#fff"/>
</g>
<g id="panel-l">
<text x="779" y="1089.5" font-family='"Liberation Sans", sans-serif' font-size="27" text-anchor="start" font-weight="bold" font-style="normal" fill="#000">l</text>
<g clip-path="url(#cl)"><g filter="url(#fstr2)">
<rect x="760" y="1080" width="460" height="320" fill="#8d8d8d"/>
<path d="M760,1225L1120,1400H760Z" fill="#777"/>
<ellipse cx="900" cy="1335" rx="100" ry="28" fill="#727272"/>
<ellipse cx="850" cy="1140" rx="40" ry="25" fill="#8a8a8a"/>
<ellipse cx="1060" cy="1230" rx="90" ry="60" fill="#999"/>
</g></g>
<path d="M791,1165L1133,1362" fill="none" stroke="#fff" stroke-width="2" stroke-dasharray="3.6 6.4"/>
<text x="794" y="1128" font-family='"Liberation Sans", sans-serif' font-size="17.6" text-anchor="start" font-weight="bold" font-style="normal" fill="#fff">SBCPLTO</text>
<path d="M821.4,1202.6L824.4,1192.2L827.3,1193.0L825.0,1183.0L817.7,1190.3L820.6,1191.1L817.6,1201.4Z" fill="#fff"/>
<text x="793" y="1218" font-family='"Liberation Sans", sans-serif' font-size="17.2" text-anchor="start" font-weight="bold" font-style="normal" fill="#fff">Interface</text>
<text x="794" y="1316" font-family='"Liberation Sans", sans-serif' font-size="17.5" text-anchor="start" font-weight="bold" font-style="normal" fill="#fff">LSAT(001)</text>
<text x="828.2" y="1347.7" font-family='"Liberation Sans", sans-serif' font-size="16.4" font-weight="bold" fill="#fff">ε<tspan dy="5.6" font-size="10.4">yy</tspan></text>
<text x="1146" y="1341" font-family='"Liberation Sans", sans-serif' font-size="16.8" text-anchor="middle" font-weight="bold" font-style="normal" fill="#fff">10 nm</text>
<rect x="1117" y="1349" width="57.5" height="6.2" fill="#fff"/>
</g>
</svg>
</body></html>
